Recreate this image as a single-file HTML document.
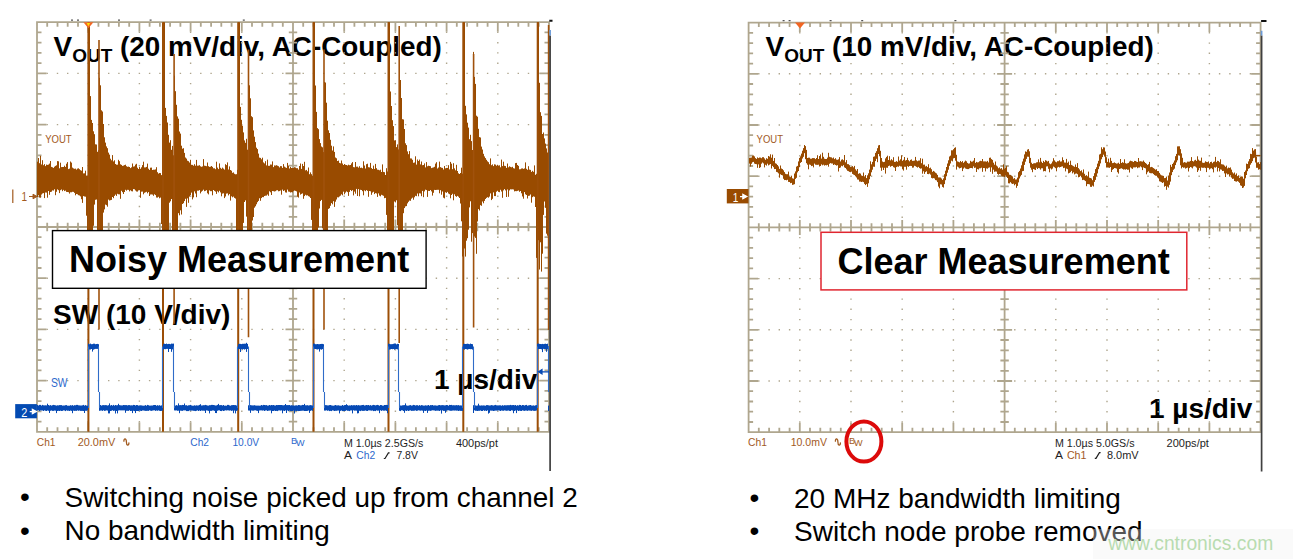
<!DOCTYPE html>
<html><head><meta charset="utf-8"><style>
html,body{margin:0;padding:0;background:#fff;width:1293px;height:559px;overflow:hidden}
svg{display:block}
text{font-family:'Liberation Sans',Arial,sans-serif}
.sc{font-size:11px}
</style></head><body>
<svg width="1293" height="559" viewBox="0 0 1293 559">
<rect width="1293" height="559" fill="#fff"/>

<text x="53.6" y="55.6" font-size="27.85" font-weight="bold" fill="#000">V<tspan font-size="19" dy="6.4">OUT</tspan><tspan dy="-6.4"> (20 mV/div, AC-Coupled)</tspan></text>
<text x="765.6" y="55.9" font-size="27.85" font-weight="bold" fill="#000">V<tspan font-size="19" dy="6.4">OUT</tspan><tspan dy="-6.4"> (10 mV/div, AC-Coupled)</tspan></text>
<text x="53" y="324" font-size="28" font-weight="bold" fill="#000">SW (10 V/div)</text>
<text x="434" y="388.7" font-size="28" font-weight="bold" fill="#000">1 µs/div</text>
<text x="1149" y="417.6" font-size="28" font-weight="bold" fill="#000">1 µs/div</text>
<path fill="#afa68e" d="M87.5 31.7h1.4v1.4h-1.4zM87.5 42h1.4v1.4h-1.4zM87.5 52.2h1.4v1.4h-1.4zM87.5 62.5h1.4v1.4h-1.4zM87.5 72.7h1.4v1.4h-1.4zM87.5 82.9h1.4v1.4h-1.4zM87.5 93.2h1.4v1.4h-1.4zM87.5 103.4h1.4v1.4h-1.4zM87.5 113.7h1.4v1.4h-1.4zM87.5 123.9h1.4v1.4h-1.4zM87.5 134.1h1.4v1.4h-1.4zM87.5 144.4h1.4v1.4h-1.4zM87.5 154.6h1.4v1.4h-1.4zM87.5 164.9h1.4v1.4h-1.4zM87.5 175.1h1.4v1.4h-1.4zM87.5 185.3h1.4v1.4h-1.4zM87.5 195.6h1.4v1.4h-1.4zM87.5 205.8h1.4v1.4h-1.4zM87.5 216.1h1.4v1.4h-1.4zM87.5 226.3h1.4v1.4h-1.4zM87.5 236.5h1.4v1.4h-1.4zM87.5 246.8h1.4v1.4h-1.4zM87.5 257h1.4v1.4h-1.4zM87.5 267.3h1.4v1.4h-1.4zM87.5 277.5h1.4v1.4h-1.4zM87.5 287.7h1.4v1.4h-1.4zM87.5 298h1.4v1.4h-1.4zM87.5 308.2h1.4v1.4h-1.4zM87.5 318.5h1.4v1.4h-1.4zM87.5 328.7h1.4v1.4h-1.4zM87.5 338.9h1.4v1.4h-1.4zM87.5 349.2h1.4v1.4h-1.4zM87.5 359.4h1.4v1.4h-1.4zM87.5 369.7h1.4v1.4h-1.4zM87.5 379.9h1.4v1.4h-1.4zM87.5 390.1h1.4v1.4h-1.4zM87.5 400.4h1.4v1.4h-1.4zM87.5 410.6h1.4v1.4h-1.4zM87.5 420.9h1.4v1.4h-1.4zM138.7 31.7h1.4v1.4h-1.4zM138.7 42h1.4v1.4h-1.4zM138.7 52.2h1.4v1.4h-1.4zM138.7 62.5h1.4v1.4h-1.4zM138.7 72.7h1.4v1.4h-1.4zM138.7 82.9h1.4v1.4h-1.4zM138.7 93.2h1.4v1.4h-1.4zM138.7 103.4h1.4v1.4h-1.4zM138.7 113.7h1.4v1.4h-1.4zM138.7 123.9h1.4v1.4h-1.4zM138.7 134.1h1.4v1.4h-1.4zM138.7 144.4h1.4v1.4h-1.4zM138.7 154.6h1.4v1.4h-1.4zM138.7 164.9h1.4v1.4h-1.4zM138.7 175.1h1.4v1.4h-1.4zM138.7 185.3h1.4v1.4h-1.4zM138.7 195.6h1.4v1.4h-1.4zM138.7 205.8h1.4v1.4h-1.4zM138.7 216.1h1.4v1.4h-1.4zM138.7 226.3h1.4v1.4h-1.4zM138.7 236.5h1.4v1.4h-1.4zM138.7 246.8h1.4v1.4h-1.4zM138.7 257h1.4v1.4h-1.4zM138.7 267.3h1.4v1.4h-1.4zM138.7 277.5h1.4v1.4h-1.4zM138.7 287.7h1.4v1.4h-1.4zM138.7 298h1.4v1.4h-1.4zM138.7 308.2h1.4v1.4h-1.4zM138.7 318.5h1.4v1.4h-1.4zM138.7 328.7h1.4v1.4h-1.4zM138.7 338.9h1.4v1.4h-1.4zM138.7 349.2h1.4v1.4h-1.4zM138.7 359.4h1.4v1.4h-1.4zM138.7 369.7h1.4v1.4h-1.4zM138.7 379.9h1.4v1.4h-1.4zM138.7 390.1h1.4v1.4h-1.4zM138.7 400.4h1.4v1.4h-1.4zM138.7 410.6h1.4v1.4h-1.4zM138.7 420.9h1.4v1.4h-1.4zM189.9 31.7h1.4v1.4h-1.4zM189.9 42h1.4v1.4h-1.4zM189.9 52.2h1.4v1.4h-1.4zM189.9 62.5h1.4v1.4h-1.4zM189.9 72.7h1.4v1.4h-1.4zM189.9 82.9h1.4v1.4h-1.4zM189.9 93.2h1.4v1.4h-1.4zM189.9 103.4h1.4v1.4h-1.4zM189.9 113.7h1.4v1.4h-1.4zM189.9 123.9h1.4v1.4h-1.4zM189.9 134.1h1.4v1.4h-1.4zM189.9 144.4h1.4v1.4h-1.4zM189.9 154.6h1.4v1.4h-1.4zM189.9 164.9h1.4v1.4h-1.4zM189.9 175.1h1.4v1.4h-1.4zM189.9 185.3h1.4v1.4h-1.4zM189.9 195.6h1.4v1.4h-1.4zM189.9 205.8h1.4v1.4h-1.4zM189.9 216.1h1.4v1.4h-1.4zM189.9 226.3h1.4v1.4h-1.4zM189.9 236.5h1.4v1.4h-1.4zM189.9 246.8h1.4v1.4h-1.4zM189.9 257h1.4v1.4h-1.4zM189.9 267.3h1.4v1.4h-1.4zM189.9 277.5h1.4v1.4h-1.4zM189.9 287.7h1.4v1.4h-1.4zM189.9 298h1.4v1.4h-1.4zM189.9 308.2h1.4v1.4h-1.4zM189.9 318.5h1.4v1.4h-1.4zM189.9 328.7h1.4v1.4h-1.4zM189.9 338.9h1.4v1.4h-1.4zM189.9 349.2h1.4v1.4h-1.4zM189.9 359.4h1.4v1.4h-1.4zM189.9 369.7h1.4v1.4h-1.4zM189.9 379.9h1.4v1.4h-1.4zM189.9 390.1h1.4v1.4h-1.4zM189.9 400.4h1.4v1.4h-1.4zM189.9 410.6h1.4v1.4h-1.4zM189.9 420.9h1.4v1.4h-1.4zM241.1 31.7h1.4v1.4h-1.4zM241.1 42h1.4v1.4h-1.4zM241.1 52.2h1.4v1.4h-1.4zM241.1 62.5h1.4v1.4h-1.4zM241.1 72.7h1.4v1.4h-1.4zM241.1 82.9h1.4v1.4h-1.4zM241.1 93.2h1.4v1.4h-1.4zM241.1 103.4h1.4v1.4h-1.4zM241.1 113.7h1.4v1.4h-1.4zM241.1 123.9h1.4v1.4h-1.4zM241.1 134.1h1.4v1.4h-1.4zM241.1 144.4h1.4v1.4h-1.4zM241.1 154.6h1.4v1.4h-1.4zM241.1 164.9h1.4v1.4h-1.4zM241.1 175.1h1.4v1.4h-1.4zM241.1 185.3h1.4v1.4h-1.4zM241.1 195.6h1.4v1.4h-1.4zM241.1 205.8h1.4v1.4h-1.4zM241.1 216.1h1.4v1.4h-1.4zM241.1 226.3h1.4v1.4h-1.4zM241.1 236.5h1.4v1.4h-1.4zM241.1 246.8h1.4v1.4h-1.4zM241.1 257h1.4v1.4h-1.4zM241.1 267.3h1.4v1.4h-1.4zM241.1 277.5h1.4v1.4h-1.4zM241.1 287.7h1.4v1.4h-1.4zM241.1 298h1.4v1.4h-1.4zM241.1 308.2h1.4v1.4h-1.4zM241.1 318.5h1.4v1.4h-1.4zM241.1 328.7h1.4v1.4h-1.4zM241.1 338.9h1.4v1.4h-1.4zM241.1 349.2h1.4v1.4h-1.4zM241.1 359.4h1.4v1.4h-1.4zM241.1 369.7h1.4v1.4h-1.4zM241.1 379.9h1.4v1.4h-1.4zM241.1 390.1h1.4v1.4h-1.4zM241.1 400.4h1.4v1.4h-1.4zM241.1 410.6h1.4v1.4h-1.4zM241.1 420.9h1.4v1.4h-1.4zM343.5 31.7h1.4v1.4h-1.4zM343.5 42h1.4v1.4h-1.4zM343.5 52.2h1.4v1.4h-1.4zM343.5 62.5h1.4v1.4h-1.4zM343.5 72.7h1.4v1.4h-1.4zM343.5 82.9h1.4v1.4h-1.4zM343.5 93.2h1.4v1.4h-1.4zM343.5 103.4h1.4v1.4h-1.4zM343.5 113.7h1.4v1.4h-1.4zM343.5 123.9h1.4v1.4h-1.4zM343.5 134.1h1.4v1.4h-1.4zM343.5 144.4h1.4v1.4h-1.4zM343.5 154.6h1.4v1.4h-1.4zM343.5 164.9h1.4v1.4h-1.4zM343.5 175.1h1.4v1.4h-1.4zM343.5 185.3h1.4v1.4h-1.4zM343.5 195.6h1.4v1.4h-1.4zM343.5 205.8h1.4v1.4h-1.4zM343.5 216.1h1.4v1.4h-1.4zM343.5 226.3h1.4v1.4h-1.4zM343.5 236.5h1.4v1.4h-1.4zM343.5 246.8h1.4v1.4h-1.4zM343.5 257h1.4v1.4h-1.4zM343.5 267.3h1.4v1.4h-1.4zM343.5 277.5h1.4v1.4h-1.4zM343.5 287.7h1.4v1.4h-1.4zM343.5 298h1.4v1.4h-1.4zM343.5 308.2h1.4v1.4h-1.4zM343.5 318.5h1.4v1.4h-1.4zM343.5 328.7h1.4v1.4h-1.4zM343.5 338.9h1.4v1.4h-1.4zM343.5 349.2h1.4v1.4h-1.4zM343.5 359.4h1.4v1.4h-1.4zM343.5 369.7h1.4v1.4h-1.4zM343.5 379.9h1.4v1.4h-1.4zM343.5 390.1h1.4v1.4h-1.4zM343.5 400.4h1.4v1.4h-1.4zM343.5 410.6h1.4v1.4h-1.4zM343.5 420.9h1.4v1.4h-1.4zM394.7 31.7h1.4v1.4h-1.4zM394.7 42h1.4v1.4h-1.4zM394.7 52.2h1.4v1.4h-1.4zM394.7 62.5h1.4v1.4h-1.4zM394.7 72.7h1.4v1.4h-1.4zM394.7 82.9h1.4v1.4h-1.4zM394.7 93.2h1.4v1.4h-1.4zM394.7 103.4h1.4v1.4h-1.4zM394.7 113.7h1.4v1.4h-1.4zM394.7 123.9h1.4v1.4h-1.4zM394.7 134.1h1.4v1.4h-1.4zM394.7 144.4h1.4v1.4h-1.4zM394.7 154.6h1.4v1.4h-1.4zM394.7 164.9h1.4v1.4h-1.4zM394.7 175.1h1.4v1.4h-1.4zM394.7 185.3h1.4v1.4h-1.4zM394.7 195.6h1.4v1.4h-1.4zM394.7 205.8h1.4v1.4h-1.4zM394.7 216.1h1.4v1.4h-1.4zM394.7 226.3h1.4v1.4h-1.4zM394.7 236.5h1.4v1.4h-1.4zM394.7 246.8h1.4v1.4h-1.4zM394.7 257h1.4v1.4h-1.4zM394.7 267.3h1.4v1.4h-1.4zM394.7 277.5h1.4v1.4h-1.4zM394.7 287.7h1.4v1.4h-1.4zM394.7 298h1.4v1.4h-1.4zM394.7 308.2h1.4v1.4h-1.4zM394.7 318.5h1.4v1.4h-1.4zM394.7 328.7h1.4v1.4h-1.4zM394.7 338.9h1.4v1.4h-1.4zM394.7 349.2h1.4v1.4h-1.4zM394.7 359.4h1.4v1.4h-1.4zM394.7 369.7h1.4v1.4h-1.4zM394.7 379.9h1.4v1.4h-1.4zM394.7 390.1h1.4v1.4h-1.4zM394.7 400.4h1.4v1.4h-1.4zM394.7 410.6h1.4v1.4h-1.4zM394.7 420.9h1.4v1.4h-1.4zM445.9 31.7h1.4v1.4h-1.4zM445.9 42h1.4v1.4h-1.4zM445.9 52.2h1.4v1.4h-1.4zM445.9 62.5h1.4v1.4h-1.4zM445.9 72.7h1.4v1.4h-1.4zM445.9 82.9h1.4v1.4h-1.4zM445.9 93.2h1.4v1.4h-1.4zM445.9 103.4h1.4v1.4h-1.4zM445.9 113.7h1.4v1.4h-1.4zM445.9 123.9h1.4v1.4h-1.4zM445.9 134.1h1.4v1.4h-1.4zM445.9 144.4h1.4v1.4h-1.4zM445.9 154.6h1.4v1.4h-1.4zM445.9 164.9h1.4v1.4h-1.4zM445.9 175.1h1.4v1.4h-1.4zM445.9 185.3h1.4v1.4h-1.4zM445.9 195.6h1.4v1.4h-1.4zM445.9 205.8h1.4v1.4h-1.4zM445.9 216.1h1.4v1.4h-1.4zM445.9 226.3h1.4v1.4h-1.4zM445.9 236.5h1.4v1.4h-1.4zM445.9 246.8h1.4v1.4h-1.4zM445.9 257h1.4v1.4h-1.4zM445.9 267.3h1.4v1.4h-1.4zM445.9 277.5h1.4v1.4h-1.4zM445.9 287.7h1.4v1.4h-1.4zM445.9 298h1.4v1.4h-1.4zM445.9 308.2h1.4v1.4h-1.4zM445.9 318.5h1.4v1.4h-1.4zM445.9 328.7h1.4v1.4h-1.4zM445.9 338.9h1.4v1.4h-1.4zM445.9 349.2h1.4v1.4h-1.4zM445.9 359.4h1.4v1.4h-1.4zM445.9 369.7h1.4v1.4h-1.4zM445.9 379.9h1.4v1.4h-1.4zM445.9 390.1h1.4v1.4h-1.4zM445.9 400.4h1.4v1.4h-1.4zM445.9 410.6h1.4v1.4h-1.4zM445.9 420.9h1.4v1.4h-1.4zM497.1 31.7h1.4v1.4h-1.4zM497.1 42h1.4v1.4h-1.4zM497.1 52.2h1.4v1.4h-1.4zM497.1 62.5h1.4v1.4h-1.4zM497.1 72.7h1.4v1.4h-1.4zM497.1 82.9h1.4v1.4h-1.4zM497.1 93.2h1.4v1.4h-1.4zM497.1 103.4h1.4v1.4h-1.4zM497.1 113.7h1.4v1.4h-1.4zM497.1 123.9h1.4v1.4h-1.4zM497.1 134.1h1.4v1.4h-1.4zM497.1 144.4h1.4v1.4h-1.4zM497.1 154.6h1.4v1.4h-1.4zM497.1 164.9h1.4v1.4h-1.4zM497.1 175.1h1.4v1.4h-1.4zM497.1 185.3h1.4v1.4h-1.4zM497.1 195.6h1.4v1.4h-1.4zM497.1 205.8h1.4v1.4h-1.4zM497.1 216.1h1.4v1.4h-1.4zM497.1 226.3h1.4v1.4h-1.4zM497.1 236.5h1.4v1.4h-1.4zM497.1 246.8h1.4v1.4h-1.4zM497.1 257h1.4v1.4h-1.4zM497.1 267.3h1.4v1.4h-1.4zM497.1 277.5h1.4v1.4h-1.4zM497.1 287.7h1.4v1.4h-1.4zM497.1 298h1.4v1.4h-1.4zM497.1 308.2h1.4v1.4h-1.4zM497.1 318.5h1.4v1.4h-1.4zM497.1 328.7h1.4v1.4h-1.4zM497.1 338.9h1.4v1.4h-1.4zM497.1 349.2h1.4v1.4h-1.4zM497.1 359.4h1.4v1.4h-1.4zM497.1 369.7h1.4v1.4h-1.4zM497.1 379.9h1.4v1.4h-1.4zM497.1 390.1h1.4v1.4h-1.4zM497.1 400.4h1.4v1.4h-1.4zM497.1 410.6h1.4v1.4h-1.4zM497.1 420.9h1.4v1.4h-1.4zM46.5 72.7h1.4v1.4h-1.4zM56.8 72.7h1.4v1.4h-1.4zM67 72.7h1.4v1.4h-1.4zM77.3 72.7h1.4v1.4h-1.4zM97.7 72.7h1.4v1.4h-1.4zM108 72.7h1.4v1.4h-1.4zM118.2 72.7h1.4v1.4h-1.4zM128.5 72.7h1.4v1.4h-1.4zM148.9 72.7h1.4v1.4h-1.4zM159.2 72.7h1.4v1.4h-1.4zM169.4 72.7h1.4v1.4h-1.4zM179.7 72.7h1.4v1.4h-1.4zM200.1 72.7h1.4v1.4h-1.4zM210.4 72.7h1.4v1.4h-1.4zM220.6 72.7h1.4v1.4h-1.4zM230.9 72.7h1.4v1.4h-1.4zM251.3 72.7h1.4v1.4h-1.4zM261.6 72.7h1.4v1.4h-1.4zM271.8 72.7h1.4v1.4h-1.4zM282.1 72.7h1.4v1.4h-1.4zM302.5 72.7h1.4v1.4h-1.4zM312.8 72.7h1.4v1.4h-1.4zM323 72.7h1.4v1.4h-1.4zM333.3 72.7h1.4v1.4h-1.4zM353.7 72.7h1.4v1.4h-1.4zM364 72.7h1.4v1.4h-1.4zM374.2 72.7h1.4v1.4h-1.4zM384.5 72.7h1.4v1.4h-1.4zM404.9 72.7h1.4v1.4h-1.4zM415.2 72.7h1.4v1.4h-1.4zM425.4 72.7h1.4v1.4h-1.4zM435.7 72.7h1.4v1.4h-1.4zM456.1 72.7h1.4v1.4h-1.4zM466.4 72.7h1.4v1.4h-1.4zM476.6 72.7h1.4v1.4h-1.4zM486.9 72.7h1.4v1.4h-1.4zM507.3 72.7h1.4v1.4h-1.4zM517.6 72.7h1.4v1.4h-1.4zM527.8 72.7h1.4v1.4h-1.4zM538.1 72.7h1.4v1.4h-1.4zM46.5 123.9h1.4v1.4h-1.4zM56.8 123.9h1.4v1.4h-1.4zM67 123.9h1.4v1.4h-1.4zM77.3 123.9h1.4v1.4h-1.4zM97.7 123.9h1.4v1.4h-1.4zM108 123.9h1.4v1.4h-1.4zM118.2 123.9h1.4v1.4h-1.4zM128.5 123.9h1.4v1.4h-1.4zM148.9 123.9h1.4v1.4h-1.4zM159.2 123.9h1.4v1.4h-1.4zM169.4 123.9h1.4v1.4h-1.4zM179.7 123.9h1.4v1.4h-1.4zM200.1 123.9h1.4v1.4h-1.4zM210.4 123.9h1.4v1.4h-1.4zM220.6 123.9h1.4v1.4h-1.4zM230.9 123.9h1.4v1.4h-1.4zM251.3 123.9h1.4v1.4h-1.4zM261.6 123.9h1.4v1.4h-1.4zM271.8 123.9h1.4v1.4h-1.4zM282.1 123.9h1.4v1.4h-1.4zM302.5 123.9h1.4v1.4h-1.4zM312.8 123.9h1.4v1.4h-1.4zM323 123.9h1.4v1.4h-1.4zM333.3 123.9h1.4v1.4h-1.4zM353.7 123.9h1.4v1.4h-1.4zM364 123.9h1.4v1.4h-1.4zM374.2 123.9h1.4v1.4h-1.4zM384.5 123.9h1.4v1.4h-1.4zM404.9 123.9h1.4v1.4h-1.4zM415.2 123.9h1.4v1.4h-1.4zM425.4 123.9h1.4v1.4h-1.4zM435.7 123.9h1.4v1.4h-1.4zM456.1 123.9h1.4v1.4h-1.4zM466.4 123.9h1.4v1.4h-1.4zM476.6 123.9h1.4v1.4h-1.4zM486.9 123.9h1.4v1.4h-1.4zM507.3 123.9h1.4v1.4h-1.4zM517.6 123.9h1.4v1.4h-1.4zM527.8 123.9h1.4v1.4h-1.4zM538.1 123.9h1.4v1.4h-1.4zM46.5 175.1h1.4v1.4h-1.4zM56.8 175.1h1.4v1.4h-1.4zM67 175.1h1.4v1.4h-1.4zM77.3 175.1h1.4v1.4h-1.4zM97.7 175.1h1.4v1.4h-1.4zM108 175.1h1.4v1.4h-1.4zM118.2 175.1h1.4v1.4h-1.4zM128.5 175.1h1.4v1.4h-1.4zM148.9 175.1h1.4v1.4h-1.4zM159.2 175.1h1.4v1.4h-1.4zM169.4 175.1h1.4v1.4h-1.4zM179.7 175.1h1.4v1.4h-1.4zM200.1 175.1h1.4v1.4h-1.4zM210.4 175.1h1.4v1.4h-1.4zM220.6 175.1h1.4v1.4h-1.4zM230.9 175.1h1.4v1.4h-1.4zM251.3 175.1h1.4v1.4h-1.4zM261.6 175.1h1.4v1.4h-1.4zM271.8 175.1h1.4v1.4h-1.4zM282.1 175.1h1.4v1.4h-1.4zM302.5 175.1h1.4v1.4h-1.4zM312.8 175.1h1.4v1.4h-1.4zM323 175.1h1.4v1.4h-1.4zM333.3 175.1h1.4v1.4h-1.4zM353.7 175.1h1.4v1.4h-1.4zM364 175.1h1.4v1.4h-1.4zM374.2 175.1h1.4v1.4h-1.4zM384.5 175.1h1.4v1.4h-1.4zM404.9 175.1h1.4v1.4h-1.4zM415.2 175.1h1.4v1.4h-1.4zM425.4 175.1h1.4v1.4h-1.4zM435.7 175.1h1.4v1.4h-1.4zM456.1 175.1h1.4v1.4h-1.4zM466.4 175.1h1.4v1.4h-1.4zM476.6 175.1h1.4v1.4h-1.4zM486.9 175.1h1.4v1.4h-1.4zM507.3 175.1h1.4v1.4h-1.4zM517.6 175.1h1.4v1.4h-1.4zM527.8 175.1h1.4v1.4h-1.4zM538.1 175.1h1.4v1.4h-1.4zM46.5 277.5h1.4v1.4h-1.4zM56.8 277.5h1.4v1.4h-1.4zM67 277.5h1.4v1.4h-1.4zM77.3 277.5h1.4v1.4h-1.4zM97.7 277.5h1.4v1.4h-1.4zM108 277.5h1.4v1.4h-1.4zM118.2 277.5h1.4v1.4h-1.4zM128.5 277.5h1.4v1.4h-1.4zM148.9 277.5h1.4v1.4h-1.4zM159.2 277.5h1.4v1.4h-1.4zM169.4 277.5h1.4v1.4h-1.4zM179.7 277.5h1.4v1.4h-1.4zM200.1 277.5h1.4v1.4h-1.4zM210.4 277.5h1.4v1.4h-1.4zM220.6 277.5h1.4v1.4h-1.4zM230.9 277.5h1.4v1.4h-1.4zM251.3 277.5h1.4v1.4h-1.4zM261.6 277.5h1.4v1.4h-1.4zM271.8 277.5h1.4v1.4h-1.4zM282.1 277.5h1.4v1.4h-1.4zM302.5 277.5h1.4v1.4h-1.4zM312.8 277.5h1.4v1.4h-1.4zM323 277.5h1.4v1.4h-1.4zM333.3 277.5h1.4v1.4h-1.4zM353.7 277.5h1.4v1.4h-1.4zM364 277.5h1.4v1.4h-1.4zM374.2 277.5h1.4v1.4h-1.4zM384.5 277.5h1.4v1.4h-1.4zM404.9 277.5h1.4v1.4h-1.4zM415.2 277.5h1.4v1.4h-1.4zM425.4 277.5h1.4v1.4h-1.4zM435.7 277.5h1.4v1.4h-1.4zM456.1 277.5h1.4v1.4h-1.4zM466.4 277.5h1.4v1.4h-1.4zM476.6 277.5h1.4v1.4h-1.4zM486.9 277.5h1.4v1.4h-1.4zM507.3 277.5h1.4v1.4h-1.4zM517.6 277.5h1.4v1.4h-1.4zM527.8 277.5h1.4v1.4h-1.4zM538.1 277.5h1.4v1.4h-1.4zM46.5 328.7h1.4v1.4h-1.4zM56.8 328.7h1.4v1.4h-1.4zM67 328.7h1.4v1.4h-1.4zM77.3 328.7h1.4v1.4h-1.4zM97.7 328.7h1.4v1.4h-1.4zM108 328.7h1.4v1.4h-1.4zM118.2 328.7h1.4v1.4h-1.4zM128.5 328.7h1.4v1.4h-1.4zM148.9 328.7h1.4v1.4h-1.4zM159.2 328.7h1.4v1.4h-1.4zM169.4 328.7h1.4v1.4h-1.4zM179.7 328.7h1.4v1.4h-1.4zM200.1 328.7h1.4v1.4h-1.4zM210.4 328.7h1.4v1.4h-1.4zM220.6 328.7h1.4v1.4h-1.4zM230.9 328.7h1.4v1.4h-1.4zM251.3 328.7h1.4v1.4h-1.4zM261.6 328.7h1.4v1.4h-1.4zM271.8 328.7h1.4v1.4h-1.4zM282.1 328.7h1.4v1.4h-1.4zM302.5 328.7h1.4v1.4h-1.4zM312.8 328.7h1.4v1.4h-1.4zM323 328.7h1.4v1.4h-1.4zM333.3 328.7h1.4v1.4h-1.4zM353.7 328.7h1.4v1.4h-1.4zM364 328.7h1.4v1.4h-1.4zM374.2 328.7h1.4v1.4h-1.4zM384.5 328.7h1.4v1.4h-1.4zM404.9 328.7h1.4v1.4h-1.4zM415.2 328.7h1.4v1.4h-1.4zM425.4 328.7h1.4v1.4h-1.4zM435.7 328.7h1.4v1.4h-1.4zM456.1 328.7h1.4v1.4h-1.4zM466.4 328.7h1.4v1.4h-1.4zM476.6 328.7h1.4v1.4h-1.4zM486.9 328.7h1.4v1.4h-1.4zM507.3 328.7h1.4v1.4h-1.4zM517.6 328.7h1.4v1.4h-1.4zM527.8 328.7h1.4v1.4h-1.4zM538.1 328.7h1.4v1.4h-1.4zM46.5 379.9h1.4v1.4h-1.4zM56.8 379.9h1.4v1.4h-1.4zM67 379.9h1.4v1.4h-1.4zM77.3 379.9h1.4v1.4h-1.4zM97.7 379.9h1.4v1.4h-1.4zM108 379.9h1.4v1.4h-1.4zM118.2 379.9h1.4v1.4h-1.4zM128.5 379.9h1.4v1.4h-1.4zM148.9 379.9h1.4v1.4h-1.4zM159.2 379.9h1.4v1.4h-1.4zM169.4 379.9h1.4v1.4h-1.4zM179.7 379.9h1.4v1.4h-1.4zM200.1 379.9h1.4v1.4h-1.4zM210.4 379.9h1.4v1.4h-1.4zM220.6 379.9h1.4v1.4h-1.4zM230.9 379.9h1.4v1.4h-1.4zM251.3 379.9h1.4v1.4h-1.4zM261.6 379.9h1.4v1.4h-1.4zM271.8 379.9h1.4v1.4h-1.4zM282.1 379.9h1.4v1.4h-1.4zM302.5 379.9h1.4v1.4h-1.4zM312.8 379.9h1.4v1.4h-1.4zM323 379.9h1.4v1.4h-1.4zM333.3 379.9h1.4v1.4h-1.4zM353.7 379.9h1.4v1.4h-1.4zM364 379.9h1.4v1.4h-1.4zM374.2 379.9h1.4v1.4h-1.4zM384.5 379.9h1.4v1.4h-1.4zM404.9 379.9h1.4v1.4h-1.4zM415.2 379.9h1.4v1.4h-1.4zM425.4 379.9h1.4v1.4h-1.4zM435.7 379.9h1.4v1.4h-1.4zM456.1 379.9h1.4v1.4h-1.4zM466.4 379.9h1.4v1.4h-1.4zM476.6 379.9h1.4v1.4h-1.4zM486.9 379.9h1.4v1.4h-1.4zM507.3 379.9h1.4v1.4h-1.4zM517.6 379.9h1.4v1.4h-1.4zM527.8 379.9h1.4v1.4h-1.4zM538.1 379.9h1.4v1.4h-1.4z"/>
<path fill="none" stroke="#afa68e" stroke-width="1.8" d="M37 22.2H549V431.8H37ZM293 22.2V431.8M37 227H549M47.2 22.2v4.5M47.2 431.8v-4.5M47.2 222.8v8.4M57.5 22.2v4.5M57.5 431.8v-4.5M57.5 222.8v8.4M67.7 22.2v4.5M67.7 431.8v-4.5M67.7 222.8v8.4M78 22.2v4.5M78 431.8v-4.5M78 222.8v8.4M88.2 22.2v9.5M88.2 431.8v-9.5M88.2 219.5v15M98.4 22.2v4.5M98.4 431.8v-4.5M98.4 222.8v8.4M108.7 22.2v4.5M108.7 431.8v-4.5M108.7 222.8v8.4M118.9 22.2v4.5M118.9 431.8v-4.5M118.9 222.8v8.4M129.2 22.2v4.5M129.2 431.8v-4.5M129.2 222.8v8.4M139.4 22.2v9.5M139.4 431.8v-9.5M139.4 219.5v15M149.6 22.2v4.5M149.6 431.8v-4.5M149.6 222.8v8.4M159.9 22.2v4.5M159.9 431.8v-4.5M159.9 222.8v8.4M170.1 22.2v4.5M170.1 431.8v-4.5M170.1 222.8v8.4M180.4 22.2v4.5M180.4 431.8v-4.5M180.4 222.8v8.4M190.6 22.2v9.5M190.6 431.8v-9.5M190.6 219.5v15M200.8 22.2v4.5M200.8 431.8v-4.5M200.8 222.8v8.4M211.1 22.2v4.5M211.1 431.8v-4.5M211.1 222.8v8.4M221.3 22.2v4.5M221.3 431.8v-4.5M221.3 222.8v8.4M231.6 22.2v4.5M231.6 431.8v-4.5M231.6 222.8v8.4M241.8 22.2v9.5M241.8 431.8v-9.5M241.8 219.5v15M252 22.2v4.5M252 431.8v-4.5M252 222.8v8.4M262.3 22.2v4.5M262.3 431.8v-4.5M262.3 222.8v8.4M272.5 22.2v4.5M272.5 431.8v-4.5M272.5 222.8v8.4M282.8 22.2v4.5M282.8 431.8v-4.5M282.8 222.8v8.4M293 22.2v9.5M293 431.8v-9.5M293 219.5v15M303.2 22.2v4.5M303.2 431.8v-4.5M303.2 222.8v8.4M313.5 22.2v4.5M313.5 431.8v-4.5M313.5 222.8v8.4M323.7 22.2v4.5M323.7 431.8v-4.5M323.7 222.8v8.4M334 22.2v4.5M334 431.8v-4.5M334 222.8v8.4M344.2 22.2v9.5M344.2 431.8v-9.5M344.2 219.5v15M354.4 22.2v4.5M354.4 431.8v-4.5M354.4 222.8v8.4M364.7 22.2v4.5M364.7 431.8v-4.5M364.7 222.8v8.4M374.9 22.2v4.5M374.9 431.8v-4.5M374.9 222.8v8.4M385.2 22.2v4.5M385.2 431.8v-4.5M385.2 222.8v8.4M395.4 22.2v9.5M395.4 431.8v-9.5M395.4 219.5v15M405.6 22.2v4.5M405.6 431.8v-4.5M405.6 222.8v8.4M415.9 22.2v4.5M415.9 431.8v-4.5M415.9 222.8v8.4M426.1 22.2v4.5M426.1 431.8v-4.5M426.1 222.8v8.4M436.4 22.2v4.5M436.4 431.8v-4.5M436.4 222.8v8.4M446.6 22.2v9.5M446.6 431.8v-9.5M446.6 219.5v15M456.8 22.2v4.5M456.8 431.8v-4.5M456.8 222.8v8.4M467.1 22.2v4.5M467.1 431.8v-4.5M467.1 222.8v8.4M477.3 22.2v4.5M477.3 431.8v-4.5M477.3 222.8v8.4M487.6 22.2v4.5M487.6 431.8v-4.5M487.6 222.8v8.4M497.8 22.2v9.5M497.8 431.8v-9.5M497.8 219.5v15M508 22.2v4.5M508 431.8v-4.5M508 222.8v8.4M518.3 22.2v4.5M518.3 431.8v-4.5M518.3 222.8v8.4M528.5 22.2v4.5M528.5 431.8v-4.5M528.5 222.8v8.4M538.8 22.2v4.5M538.8 431.8v-4.5M538.8 222.8v8.4M37 32.4h4.5M549 32.4h-4.5M288.8 32.4h8.4M37 42.7h4.5M549 42.7h-4.5M288.8 42.7h8.4M37 52.9h4.5M549 52.9h-4.5M288.8 52.9h8.4M37 63.2h4.5M549 63.2h-4.5M288.8 63.2h8.4M37 73.4h9.5M549 73.4h-9.5M285.5 73.4h15M37 83.6h4.5M549 83.6h-4.5M288.8 83.6h8.4M37 93.9h4.5M549 93.9h-4.5M288.8 93.9h8.4M37 104.1h4.5M549 104.1h-4.5M288.8 104.1h8.4M37 114.4h4.5M549 114.4h-4.5M288.8 114.4h8.4M37 124.6h9.5M549 124.6h-9.5M285.5 124.6h15M37 134.8h4.5M549 134.8h-4.5M288.8 134.8h8.4M37 145.1h4.5M549 145.1h-4.5M288.8 145.1h8.4M37 155.3h4.5M549 155.3h-4.5M288.8 155.3h8.4M37 165.6h4.5M549 165.6h-4.5M288.8 165.6h8.4M37 175.8h9.5M549 175.8h-9.5M285.5 175.8h15M37 186h4.5M549 186h-4.5M288.8 186h8.4M37 196.3h4.5M549 196.3h-4.5M288.8 196.3h8.4M37 206.5h4.5M549 206.5h-4.5M288.8 206.5h8.4M37 216.8h4.5M549 216.8h-4.5M288.8 216.8h8.4M37 227h9.5M549 227h-9.5M285.5 227h15M37 237.2h4.5M549 237.2h-4.5M288.8 237.2h8.4M37 247.5h4.5M549 247.5h-4.5M288.8 247.5h8.4M37 257.7h4.5M549 257.7h-4.5M288.8 257.7h8.4M37 268h4.5M549 268h-4.5M288.8 268h8.4M37 278.2h9.5M549 278.2h-9.5M285.5 278.2h15M37 288.4h4.5M549 288.4h-4.5M288.8 288.4h8.4M37 298.7h4.5M549 298.7h-4.5M288.8 298.7h8.4M37 308.9h4.5M549 308.9h-4.5M288.8 308.9h8.4M37 319.2h4.5M549 319.2h-4.5M288.8 319.2h8.4M37 329.4h9.5M549 329.4h-9.5M285.5 329.4h15M37 339.6h4.5M549 339.6h-4.5M288.8 339.6h8.4M37 349.9h4.5M549 349.9h-4.5M288.8 349.9h8.4M37 360.1h4.5M549 360.1h-4.5M288.8 360.1h8.4M37 370.4h4.5M549 370.4h-4.5M288.8 370.4h8.4M37 380.6h9.5M549 380.6h-9.5M285.5 380.6h15M37 390.8h4.5M549 390.8h-4.5M288.8 390.8h8.4M37 401.1h4.5M549 401.1h-4.5M288.8 401.1h8.4M37 411.3h4.5M549 411.3h-4.5M288.8 411.3h8.4M37 421.6h4.5M549 421.6h-4.5M288.8 421.6h8.4"/>
<path stroke="#994b00" stroke-width="1" d="M37.5 161.7V197M38.5 158V195M39.5 163.2V197.5M40.5 155.9V197.7M41.5 164.5V194.6M42.5 160.2V193.5M43.5 165.2V193.1M44.5 164.1V198.1M45.5 166.1V192.5M46.5 164.6V192.6M47.5 164.9V197.7M48.5 164.6V191M49.5 163.6V194.8M50.5 161V192M51.5 166.9V191.7M52.5 167.3V190.4M53.5 167.9V190.6M54.5 166.7V189.3M55.5 165.9V195.2M56.5 165.3V191.8M57.5 161.1V189.4M58.5 161.3V190.2M59.5 168.3V193.1M60.5 162.7V190.2M61.5 167.1V189.5M62.5 167V191.2M63.5 167V189.9M64.5 165.7V191.1M65.5 166.9V190.6M66.5 163.7V191.9M67.5 162.1V192M68.5 169.1V192.2M69.5 168.6V193.6M70.5 161.5V192.3M71.5 162.6V192.3M72.5 167.6V191.8M73.5 168.4V191.9M74.5 168.8V192.9M75.5 168.6V195.3M76.5 169.6V194M77.5 168.6V194.3M78.5 168.3V195.2M79.5 169.2V195.5M80.5 170.2V196.4M81.5 170.7V199.2M82.5 167V202.9M83.5 173.4V196.1M84.5 173.3V196.5M85.5 170.7V196.7M86.5 175.6V215.7M87.5 175.7V235.8M88.5 22.2V244.9M89.5 22.2V249.6M90.5 103.9V254.4M91.5 119.9V258.3M92.5 123V268.3M93.5 131.3V225.8M94.5 134.2V204.6M95.5 144.3V199.8M96.5 144.5V199.5M97.5 151.8V229.9M98.5 150.2V252.5M99.5 77.8V237.3M100.5 85.3V243.8M101.5 110.3V242M102.5 111.5V240.2M103.5 124V212.6M104.5 137.3V209.4M105.5 142.6V204.6M106.5 146.4V205.2M107.5 148.2V206.7M108.5 152.6V199.6M109.5 154.6V200.5M110.5 158.7V200.2M111.5 160.3V199.9M112.5 155.1V197M113.5 161.4V198.2M114.5 160.3V195.9M115.5 164V194.6M116.5 164.7V195.9M117.5 164.7V193.8M118.5 159.8V194.3M119.5 161.2V194.4M120.5 164.3V198.8M121.5 164.9V190.8M122.5 165.9V192.2M123.5 165.6V194M124.5 165.1V192M125.5 164.7V189.8M126.5 166.2V190.7M127.5 166.8V189.8M128.5 166.6V189.9M129.5 167V191.4M130.5 168.1V190.3M131.5 167.3V191.2M132.5 163.5V191.4M133.5 166.6V189.1M134.5 166.3V189.3M135.5 164.6V190.5M136.5 163.8V191.5M137.5 167.7V191.6M138.5 169V190.4M139.5 166.8V190.2M140.5 168.8V197.8M141.5 167.3V191.7M142.5 165.1V191.6M143.5 161.7V194.3M144.5 167.4V192.8M145.5 167.4V192.3M146.5 166.9V191.8M147.5 163.6V193.3M148.5 168.7V192.1M149.5 169.9V196M150.5 167.7V194.5M151.5 167.6V194.4M152.5 170V194.6M153.5 169.7V195.8M154.5 169.7V194.3M155.5 169.4V195.1M156.5 167.2V197.5M157.5 172.2V197.6M158.5 173.6V196.8M159.5 173V198.3M160.5 173.1V197.6M161.5 175.1V224M162.5 174.7V244.2M163.5 22.2V240.5M164.5 22.2V246.4M165.5 107.9V242.7M166.5 115.9V241.6M167.5 122.5V234.7M168.5 134.8V245.8M169.5 142.6V202.7M170.5 140.2V201.3M171.5 149.8V199M172.5 145.9V233.2M173.5 155.3V265.7M174.5 75.7V238.3M175.5 91.2V237M176.5 104.8V235.8M177.5 116.4V258.9M178.5 118.7V213.2M179.5 131.5V215.3M180.5 133.6V210.3M181.5 145.7V214.5M182.5 148.7V204M183.5 148.2V203.2M184.5 152.9V201.1M185.5 157.5V198.8M186.5 158.6V206.9M187.5 160.7V198.4M188.5 161.2V202.8M189.5 162.5V196.6M190.5 159.8V195.2M191.5 164.8V192.6M192.5 164.9V199.4M193.5 165.7V197.4M194.5 164.2V191.4M195.5 165.7V193.5M196.5 159.9V197.2M197.5 165.7V190.7M198.5 165.6V190.7M199.5 165.2V190.1M200.5 166.3V193.4M201.5 166.8V191.7M202.5 166.4V190.8M203.5 159.1V189.7M204.5 165.7V191.2M205.5 165.9V190.8M206.5 166.2V190.2M207.5 162.5V193.3M208.5 166.2V194.4M209.5 166.9V190.4M210.5 166.7V191.2M211.5 166V191.2M212.5 166.9V195.3M213.5 168.3V190M214.5 168.3V190.9M215.5 169.2V191.6M216.5 161.7V193.9M217.5 167.6V191.3M218.5 169.1V192.4M219.5 163.4V190.8M220.5 167.8V192.4M221.5 168.8V196.3M222.5 167.6V193.6M223.5 168.6V193.3M224.5 169.6V198.1M225.5 164.2V196.5M226.5 165.1V193.6M227.5 162.4V193.4M228.5 169.5V195.4M229.5 166.4V194.1M230.5 170V200.6M231.5 170.7V196.3M232.5 172.8V197.3M233.5 172.4V196.6M234.5 173.8V197.9M235.5 174.3V198.6M236.5 174.2V256.3M237.5 169.8V236.4M238.5 22.2V273.8M239.5 22.2V240.6M240.5 106.9V248.3M241.5 119.8V275.9M242.5 125.7V267.8M243.5 132.4V222.9M244.5 140.4V202M245.5 142.8V200.4M246.5 138.8V216.6M247.5 149.7V234.3M248.5 65.8V240M249.5 85.3V255.6M250.5 98.3V235.8M251.5 116.2V234.9M252.5 117.2V220.5M253.5 130.4V217M254.5 136.7V207.7M255.5 142.1V206.3M256.5 147.7V204.3M257.5 149.1V202.2M258.5 153.6V200.9M259.5 157.6V198.3M260.5 157.9V200.8M261.5 159.3V198.1M262.5 157.7V197.1M263.5 162.4V197.2M264.5 163.4V196M265.5 161.2V195.7M266.5 165.4V195.6M267.5 159.6V194.5M268.5 165.8V195.8M269.5 165.8V191.3M270.5 164.5V192.3M271.5 164.6V195M272.5 161.4V191M273.5 167.1V191.2M274.5 165.4V191.5M275.5 165.6V191.2M276.5 165.2V190.4M277.5 165.7V190.2M278.5 166.2V191.3M279.5 167.4V191.1M280.5 166.1V190.5M281.5 166.2V194.7M282.5 167.9V189.6M283.5 164.1V191M284.5 166.6V190.4M285.5 167.4V192.4M286.5 167.9V192.6M287.5 162.9V189.6M288.5 165.6V191.6M289.5 168.5V191.8M290.5 166.9V192.5M291.5 168V192.2M292.5 168V192.4M293.5 168V191.2M294.5 167.2V190.6M295.5 167.5V190.9M296.5 168.2V191.4M297.5 168.2V196.8M298.5 169.6V197.6M299.5 166V192.5M300.5 163.5V194.6M301.5 168.9V193.9M302.5 163.9V193.4M303.5 166V198.8M304.5 161.8V196.1M305.5 170.4V194.8M306.5 169.9V195.5M307.5 171.3V195.3M308.5 167.5V196.2M309.5 174.2V196.7M310.5 172.4V198M311.5 174.2V219.9M312.5 175.8V266.2M313.5 22.2V242.2M314.5 22.2V241.8M315.5 102.6V243.2M316.5 111.9V271.3M317.5 128.1V237.3M318.5 129.2V227.5M319.5 139.1V208.5M320.5 143.1V201.1M321.5 146.5V199.9M322.5 147.3V228.2M323.5 152.1V241.6M324.5 82V239.3M325.5 82.5V236M326.5 102.7V235.3M327.5 120.7V241.8M328.5 130.3V208.9M329.5 133V208.2M330.5 139.8V205.8M331.5 145.7V203.1M332.5 150.5V204.3M333.5 146.4V201.2M334.5 151.9V206.9M335.5 157.5V201.7M336.5 158.3V199.5M337.5 161V197.3M338.5 160.6V197.4M339.5 162.9V196.5M340.5 163.3V195.7M341.5 160.5V194.3M342.5 163.5V195.3M343.5 165V191.7M344.5 164V194.3M345.5 164.8V192.6M346.5 165V191.4M347.5 165.5V192.1M348.5 164.7V195.9M349.5 165.2V191.9M350.5 165V190M351.5 163.4V191.1M352.5 162.1V190.2M353.5 167.1V195.4M354.5 167.3V191.6M355.5 162V193.7M356.5 166.7V188.9M357.5 166.6V196M358.5 167.6V189.1M359.5 166.2V196.3M360.5 167.9V189.8M361.5 167.6V190M362.5 168.2V191.2M363.5 161.3V195.3M364.5 165.5V190.4M365.5 168.5V191.2M366.5 164.2V190.1M367.5 163.7V190.9M368.5 167.2V196.8M369.5 167.4V191M370.5 162.9V191.3M371.5 168.1V194.8M372.5 169V192.6M373.5 165.6V191.8M374.5 168.9V194.1M375.5 163.9V193.1M376.5 168.2V193.5M377.5 169.7V196.9M378.5 169.8V193.4M379.5 170.3V195.6M380.5 169.7V196.3M381.5 172V194.8M382.5 164.4V195.3M383.5 171.9V195.8M384.5 172.2V198.2M385.5 175V197.9M386.5 168.2V214.9M387.5 171.5V237.7M388.5 22.2V239.3M389.5 22.2V248.4M390.5 100.1V256.6M391.5 106V242.1M392.5 120.2V239.2M393.5 126.1V245.4M394.5 140.4V201.5M395.5 140.2V202.4M396.5 147.1V200.3M397.5 144.4V225.3M398.5 149.4V240.9M399.5 77.1V235.3M400.5 80V237.9M401.5 98V235M402.5 119.2V231.9M403.5 119.5V213.2M404.5 129V208.1M405.5 143.3V206.4M406.5 145.1V206.1M407.5 151.4V203.4M408.5 154.2V201.8M409.5 151.1V200.6M410.5 158.4V200.8M411.5 158.5V198.7M412.5 159.8V197.7M413.5 162.8V199.7M414.5 162.5V197.3M415.5 156.3V195.8M416.5 164.6V196.2M417.5 159.5V193.5M418.5 161V196.3M419.5 159.6V193.3M420.5 164.4V193.5M421.5 161.5V196.2M422.5 165.2V190.9M423.5 165V197.2M424.5 163.4V191.4M425.5 167.4V189.7M426.5 162.1V190.1M427.5 166.3V196.9M428.5 165.7V190.9M429.5 166V191M430.5 166.2V190M431.5 168.1V191.4M432.5 167.7V195.6M433.5 167.4V192.8M434.5 166.8V189.9M435.5 163.6V190M436.5 162.2V189.9M437.5 168.5V189.8M438.5 167.5V189.8M439.5 161.6V193.3M440.5 167.1V190.2M441.5 167.7V194.7M442.5 167.9V191.5M443.5 169.5V197.7M444.5 166V198.4M445.5 168.3V192.3M446.5 167.9V192.9M447.5 167.9V191.9M448.5 165.2V193.5M449.5 169.4V194.2M450.5 161.9V198.3M451.5 163.7V195M452.5 169.2V193.8M453.5 163.2V200.3M454.5 168.4V194.3M455.5 170.3V196.1M456.5 164.8V196.8M457.5 171V195.9M458.5 173.3V196.7M459.5 174V198M460.5 173V203.5M461.5 167.7V221.3M462.5 173.7V256.5M463.5 22.2V268.5M464.5 22.2V240.9M465.5 105.8V256.6M466.5 114.4V240.7M467.5 122.7V238.2M468.5 127.6V229.7M469.5 139.2V207.4M470.5 134.8V201.3M471.5 141.1V241.7M472.5 150V233.1M473.5 51.9V239.3M474.5 76.9V236.5M475.5 83.9V237.9M476.5 115.7V253.8M477.5 116.7V221.5M478.5 128.8V209.1M479.5 137.1V210.5M480.5 137.5V205.2M481.5 146.6V205.8M482.5 149.5V201.5M483.5 153.8V203.3M484.5 156.4V200.9M485.5 158.1V199M486.5 159.8V197.9M487.5 161.3V197.2M488.5 162.2V197.7M489.5 164.2V196.6M490.5 158.4V193.4M491.5 165.2V200.1M492.5 164.4V198.8M493.5 166.1V192.4M494.5 164.3V196.1M495.5 164.6V196.1M496.5 165.7V191.7M497.5 164.8V190.8M498.5 165.8V191.9M499.5 165.3V192.2M500.5 167.3V189.8M501.5 159.6V191.5M502.5 166.1V197.8M503.5 161.7V190.4M504.5 165.8V189.1M505.5 166.1V190.4M506.5 167.9V197M507.5 163.5V189.5M508.5 167.3V196.8M509.5 166.3V190.4M510.5 166.9V189.3M511.5 167.3V189.4M512.5 166.8V189.3M513.5 168.2V189.5M514.5 168.5V191.4M515.5 163.1V191.1M516.5 162.9V191.2M517.5 165V190.9M518.5 165.9V190.5M519.5 169.3V191.8M520.5 169.2V191M521.5 168.5V193.3M522.5 168.4V196.5M523.5 168.9V198.7M524.5 168.4V192.1M525.5 162.4V194.3M526.5 168.8V195M527.5 169.8V198.5M528.5 166.2V195.9M529.5 169.6V195.7M530.5 169.9V194.5M531.5 171.9V202.7M532.5 170.8V197.2M533.5 171.8V196.4M534.5 165.4V196.8M535.5 174.8V207M536.5 173.8V257.9M537.5 22.2V252.1M538.5 22.2V240.2M539.5 92.6V269.5M540.5 112.2V242.3M541.5 115.9V271.6M542.5 134V253.7M543.5 132.5V214.9M544.5 138.4V201.5M545.5 143.6V207.8M546.5 148.4V233.7M547.5 152.5V235.7M548.5 53.7V236.5"/>
<path stroke="#9c4e06" stroke-width="2" d="M88.4 22.2V431.8"/>
<path stroke="#a0520c" stroke-width="1.6" d="M99 40V329.5"/>
<path stroke="#994b00" stroke-width="1" d="M90.5 96.1V251.8"/>
<path stroke="#9c4e06" stroke-width="2" d="M163 22.2V431.8"/>
<path stroke="#a0520c" stroke-width="1.6" d="M174.1 54V323.7"/>
<path stroke="#994b00" stroke-width="1" d="M164.5 87.6V254.6"/>
<path stroke="#9c4e06" stroke-width="2" d="M238.2 22.2V431.8"/>
<path stroke="#a0520c" stroke-width="1.6" d="M248.5 49.5V337.2"/>
<path stroke="#994b00" stroke-width="1" d="M239.5 94.2V251.9"/>
<path stroke="#9c4e06" stroke-width="2" d="M313.5 22.2V431.8"/>
<path stroke="#a0520c" stroke-width="1.6" d="M324 49.5V329.5"/>
<path stroke="#994b00" stroke-width="1" d="M315.5 85.5V246.6"/>
<path stroke="#9c4e06" stroke-width="2" d="M388.5 22.2V431.8"/>
<path stroke="#a0520c" stroke-width="1.6" d="M399.2 26V343"/>
<path stroke="#994b00" stroke-width="1" d="M390.5 91.5V253.3"/>
<path stroke="#9c4e06" stroke-width="2" d="M463.3 22.2V431.8"/>
<path stroke="#a0520c" stroke-width="1.6" d="M473.6 54V327.5"/>
<path stroke="#994b00" stroke-width="1" d="M464.5 95.9V248.5"/>
<path stroke="#9c4e06" stroke-width="2" d="M537.7 22.2V431.8"/>
<path stroke="#a0520c" stroke-width="1.6" d="M548.6 25V330"/>
<path stroke="#994b00" stroke-width="1" d="M539.5 82.8V250.2"/>
<path stroke="#0649b4" stroke-width="1" d="M37.5 405V410.4M38.5 405.5V410.3M39.5 404.9V411.1M40.5 404.9V410.5M41.5 405.6V410.5M42.5 404.9V410.5M43.5 405.3V411M44.5 405.4V410.4M45.5 405.3V410.8M46.5 405.4V411M47.5 403.7V410.5M48.5 405V410.8M49.5 405.5V413M50.5 405.1V410.8M51.5 405.6V410.5M52.5 405.2V410.9M53.5 404.9V410.9M54.5 405.1V410.6M55.5 405.3V410.7M56.5 405.6V413.1M57.5 405.3V411M58.5 405.4V410.8M59.5 405.1V411M60.5 405.1V410.7M61.5 405.1V411M62.5 405.6V410.9M63.5 405.5V410.4M64.5 405.5V410.5M65.5 405.2V411.1M66.5 405.1V410.4M67.5 405.7V410.8M68.5 405.7V410.7M69.5 405.7V411M70.5 405.2V410.6M71.5 405.5V410.9M72.5 405.1V413.2M73.5 405.7V410.7M74.5 405.2V410.9M75.5 405.3V410.8M76.5 404.9V410.9M77.5 404.9V410.4M78.5 405.3V410.8M79.5 405.4V410.5M80.5 405.5V410.9M81.5 405.5V410.9M82.5 405.3V410.9M83.5 404.9V411M84.5 405.6V413M85.5 405.1V410.8M86.5 405.6V410.8M87.5 405.7V410.4M88.5 343.7V349.3M89.5 344.2V349.5M90.5 343.6V349.5M91.5 344.2V349M92.5 344.1V351.6M93.5 343.7V349.7M94.5 343.7V349.2M95.5 344.2V348.9M96.5 344V348.9M97.5 343.9V348.9M98.5 344.2V349.2M99.5 405.3V410.8M100.5 405V410.6M101.5 405.6V410.5M102.5 405.2V410.9M103.5 405.1V410.3M104.5 405.2V410.9M105.5 405.1V410.7M106.5 405.2V410.4M107.5 405.5V410.6M108.5 405.2V413.4M109.5 403.4V413.4M110.5 405.5V411M111.5 405V410.8M112.5 405.6V410.3M113.5 404.9V410.9M114.5 405.6V410.7M115.5 405V413.5M116.5 405.3V411M117.5 405.2V413.4M118.5 403.8V410.5M119.5 405.1V410.3M120.5 405.3V410.4M121.5 405.4V410.4M122.5 405.4V410.4M123.5 405V410.4M124.5 405.1V410.4M125.5 405.1V412.8M126.5 405.1V410.8M127.5 405.4V410.8M128.5 405.1V410.9M129.5 405.1V410.3M130.5 405.4V411M131.5 405.3V410.9M132.5 405.4V413.1M133.5 404.9V410.8M134.5 405V411.1M135.5 405.5V413.1M136.5 405V411M137.5 405.1V411M138.5 405.6V411M139.5 405.4V410.7M140.5 405.3V410.8M141.5 405.4V411M142.5 405.6V410.5M143.5 405.7V410.5M144.5 405.6V410.7M145.5 405.1V410.9M146.5 405.7V410.9M147.5 404.9V410.8M148.5 405.2V410.9M149.5 405.6V410.3M150.5 405.6V410.7M151.5 405.5V410.9M152.5 405.5V410.6M153.5 405.1V410.4M154.5 405V410.3M155.5 405V410.9M156.5 405.7V410.5M157.5 405.2V410.8M158.5 405.6V410.4M159.5 405.2V410.8M160.5 405.7V411M161.5 405.4V410.9M162.5 405.5V410.6M163.5 344.1V349.5M164.5 343.7V349.1M165.5 344V349.2M166.5 343.6V348.9M167.5 344.1V348.9M168.5 343.9V352M169.5 343.9V349M170.5 344.2V349M171.5 343.6V351.8M172.5 343.7V349.4M173.5 343.6V349M174.5 405.5V410.4M175.5 405.6V410.5M176.5 405.1V410.4M177.5 405.5V410.8M178.5 403.4V410.7M179.5 405.2V413.2M180.5 405.1V410.7M181.5 405.2V410.8M182.5 404.9V410.9M183.5 405V410.4M184.5 403.5V410.4M185.5 405.3V410.4M186.5 405.2V411.1M187.5 405.7V411.1M188.5 405.3V411.1M189.5 405.2V410.5M190.5 404.9V410.7M191.5 405.4V410.6M192.5 405.7V410.6M193.5 405.7V410.8M194.5 405.3V410.9M195.5 405.6V411.1M196.5 405.3V410.8M197.5 405.5V410.4M198.5 405.4V411M199.5 404.9V410.5M200.5 404.2V411M201.5 405.5V410.5M202.5 405.4V410.7M203.5 405.2V410.7M204.5 405.2V410.8M205.5 404.9V413M206.5 405.2V410.4M207.5 405.5V410.6M208.5 405.6V410.9M209.5 405.2V413.4M210.5 405.2V410.9M211.5 404.9V410.9M212.5 404.9V410.5M213.5 405V410.5M214.5 405.2V410.9M215.5 405.5V413M216.5 405.4V413.1M217.5 404.9V410.8M218.5 403.9V410.4M219.5 405.2V410.4M220.5 405.1V411M221.5 405.1V411.1M222.5 405.5V410.5M223.5 405V411M224.5 405.7V410.7M225.5 405.6V410.3M226.5 405.7V410.5M227.5 404.9V410.3M228.5 404.9V410.4M229.5 405.4V410.6M230.5 405.7V410.4M231.5 405.2V410.9M232.5 405.1V410.6M233.5 405V413.2M234.5 405.1V410.6M235.5 405.1V413.4M236.5 405.5V410.9M237.5 405.5V410.4M238.5 344.2V349.1M239.5 343.8V349.1M240.5 343.9V352M241.5 344.1V349.1M242.5 343.8V349.6M243.5 343.8V349.1M244.5 343.7V349.6M245.5 343.7V349.1M246.5 342.8V351.9M247.5 343.9V349M248.5 405.3V410.5M249.5 405.3V410.6M250.5 405.1V412.9M251.5 405.3V410.5M252.5 405.4V410.7M253.5 405.4V410.7M254.5 405.2V410.4M255.5 405.5V410.3M256.5 405.6V410.7M257.5 405.6V410.9M258.5 405.6V413.1M259.5 405.7V410.5M260.5 405.6V410.4M261.5 405V410.4M262.5 405.4V410.6M263.5 404.9V410.4M264.5 405V411M265.5 405.2V410.5M266.5 405.1V410.4M267.5 405.6V411M268.5 405.5V410.7M269.5 405V410.6M270.5 405.4V410.5M271.5 405V413.3M272.5 405.2V411M273.5 405V411M274.5 405.4V410.6M275.5 405.5V411M276.5 405V410.9M277.5 405.1V411.1M278.5 405V410.5M279.5 405V410.4M280.5 405V410.6M281.5 405V410.4M282.5 405.2V413.3M283.5 405.3V410.7M284.5 405.1V411M285.5 404V410.4M286.5 405.1V413M287.5 405.1V410.5M288.5 405.1V411.1M289.5 405V410.7M290.5 405.5V411M291.5 405.2V411M292.5 405.4V411M293.5 405.4V410.6M294.5 405.6V413.5M295.5 405.4V410.9M296.5 405.3V411M297.5 405.5V410.9M298.5 405V411.1M299.5 405.1V411M300.5 405.4V410.9M301.5 405.3V410.8M302.5 404.9V410.7M303.5 405V410.7M304.5 403.9V411M305.5 405.3V411M306.5 405.3V411M307.5 405.2V410.9M308.5 405.5V410.5M309.5 405.3V412.9M310.5 405.1V410.9M311.5 405.3V410.4M312.5 405.5V410.8M313.5 343.7V349.5M314.5 343.6V348.9M315.5 344.2V349M316.5 344.2V349.3M317.5 344V349.5M318.5 344.2V349.2M319.5 344.2V351.6M320.5 344V349.3M321.5 343.9V349.7M322.5 343.9V349.1M323.5 344.2V349M324.5 405.4V410.6M325.5 405.1V410.6M326.5 405.2V410.3M327.5 405.4V410.8M328.5 405.4V410.5M329.5 405.1V411.1M330.5 405V410.9M331.5 405.4V411.1M332.5 405.6V410.4M333.5 405.7V410.6M334.5 405.4V411M335.5 405V410.8M336.5 405.4V410.8M337.5 405.4V410.6M338.5 405.3V410.5M339.5 405.6V413.4M340.5 405.7V410.9M341.5 405.7V410.5M342.5 405V411.1M343.5 405.6V411M344.5 405.1V411M345.5 405V410.9M346.5 404.2V410.3M347.5 405.1V410.8M348.5 405.6V410.8M349.5 405.4V411.1M350.5 405.5V410.5M351.5 405.1V410.4M352.5 405.4V413.4M353.5 405.2V410.3M354.5 405.2V410.7M355.5 405.4V410.6M356.5 405V410.7M357.5 405.4V413.4M358.5 405.1V413.2M359.5 405.4V410.8M360.5 405.4V411.1M361.5 405.2V410.6M362.5 405V410.9M363.5 404.9V410.9M364.5 405.5V410.8M365.5 405.3V410.5M366.5 405V410.9M367.5 405.2V411M368.5 405V410.4M369.5 405.5V410.4M370.5 405.1V410.5M371.5 405.6V410.7M372.5 405.2V410.5M373.5 404.9V411.1M374.5 405.1V410.9M375.5 405.4V411.1M376.5 405.1V410.4M377.5 404.9V410.7M378.5 405.2V410.6M379.5 405.7V413.2M380.5 405V410.3M381.5 405.1V410.9M382.5 405.6V410.4M383.5 405.6V410.7M384.5 405V410.7M385.5 405V410.5M386.5 404.9V410.9M387.5 405V413.2M388.5 343.7V349.4M389.5 343.9V349.6M390.5 344.2V349.4M391.5 344.2V349M392.5 344.1V349.2M393.5 343.8V349M394.5 343.5V349.7M395.5 343.5V349.2M396.5 344.3V349.1M397.5 343.8V349.4M398.5 344V349.7M399.5 405V410.8M400.5 405.5V411.1M401.5 405.6V410.3M402.5 405.3V410.4M403.5 405.2V411M404.5 405.1V412.8M405.5 403.4V410.6M406.5 405.4V411M407.5 405.7V410.5M408.5 405.6V411M409.5 405.3V410.6M410.5 405.1V410.4M411.5 405.6V410.9M412.5 405.4V410.8M413.5 404.9V410.8M414.5 405.1V410.7M415.5 405.5V410.4M416.5 405.2V410.9M417.5 405.2V410.7M418.5 405.7V410.3M419.5 405.1V410.5M420.5 405.6V410.7M421.5 405.1V410.5M422.5 405.3V410.7M423.5 405.6V412.9M424.5 405.6V410.8M425.5 405.3V411M426.5 405.5V410.6M427.5 405.4V412.9M428.5 405V410.8M429.5 405.7V410.7M430.5 405.1V410.9M431.5 405.2V410.6M432.5 405V410.3M433.5 405.5V410.4M434.5 405.4V410.5M435.5 405.4V410.9M436.5 405.6V410.7M437.5 405.6V410.7M438.5 405.2V410.7M439.5 405V411M440.5 405.3V410.4M441.5 405.2V413.6M442.5 405.1V410.4M443.5 405.2V410.9M444.5 405.4V410.9M445.5 405.3V412.8M446.5 405V410.8M447.5 405.1V410.4M448.5 405.7V410.3M449.5 404.9V410.6M450.5 405V410.8M451.5 404.9V410.8M452.5 405.3V410.6M453.5 405.2V410.5M454.5 405.3V410.6M455.5 405.3V410.5M456.5 405.1V410.7M457.5 405.3V410.6M458.5 405.1V411M459.5 405.5V410.7M460.5 405.4V410.9M461.5 405.5V410.9M462.5 405.2V410.9M463.5 344V348.9M464.5 343.8V349.7M465.5 344V349M466.5 343.9V349.2M467.5 343.7V349.6M468.5 343.9V349.2M469.5 344.2V349M470.5 343.6V349.2M471.5 344V349.1M472.5 344.2V349.6M473.5 405.2V413M474.5 405.4V410.3M475.5 405.4V410.8M476.5 405.7V410.8M477.5 405.5V411M478.5 403.7V410.8M479.5 405.4V410.8M480.5 405.6V410.5M481.5 405.4V411M482.5 405.5V411M483.5 405.4V410.3M484.5 405.5V410.9M485.5 405.7V410.6M486.5 405.1V411M487.5 405.1V410.4M488.5 405.3V413.6M489.5 405.5V412.8M490.5 405.4V410.6M491.5 405.1V410.7M492.5 405.3V410.7M493.5 405.5V411M494.5 405.2V410.8M495.5 404.9V410.6M496.5 405.3V410.6M497.5 405.4V410.6M498.5 405.4V410.4M499.5 405.3V410.6M500.5 405.3V411M501.5 405.7V410.5M502.5 405.2V410.7M503.5 405.6V410.8M504.5 405.2V410.4M505.5 405.3V410.6M506.5 405.3V410.8M507.5 405.2V410.7M508.5 405.2V410.5M509.5 405.2V410.9M510.5 404.9V411M511.5 405.2V410.3M512.5 405.1V410.5M513.5 405V413.2M514.5 405.3V411M515.5 405V410.5M516.5 405.7V413.1M517.5 405.2V410.4M518.5 405.5V411M519.5 404.9V410.7M520.5 405V410.9M521.5 405.6V411M522.5 405V410.4M523.5 405.1V410.7M524.5 405.5V410.9M525.5 405.1V410.6M526.5 404.9V410.6M527.5 405.7V410.9M528.5 405.4V410.5M529.5 405.2V410.6M530.5 405V410.7M531.5 405.5V410.9M532.5 405.6V410.5M533.5 405.4V410.8M534.5 405.7V410.9M535.5 405.3V410.8M536.5 405.1V410.5M537.5 343.8V349.6M538.5 343.5V349.1M539.5 343.9V349M540.5 344V349M541.5 344.1V349.3M542.5 343.9V352.1M543.5 344.1V348.9M544.5 343.9V349.1M545.5 343.7V349.1M546.5 344V351.8M547.5 343.7V349M548.5 405.6V411"/>
<path stroke="#2f6cc8" stroke-width="1.1" d="M88.5 408V346.6M98.5 346.6V392M99.5 392V408M162.5 408V346.6M173.5 346.6V392M174.5 392V408M237.5 408V346.6M248.5 346.6V392M249.5 392V408M313.5 408V346.6M323.5 346.6V392M324.5 392V408M388.5 408V346.6M398.5 346.6V392M399.5 392V408M462.5 408V346.6M473.5 346.6V392M474.5 392V408M537.5 408V346.6M548.5 346V392"/>
<path fill="#afa68e" d="M799.1 32.1h1.4v1.4h-1.4zM799.1 42.4h1.4v1.4h-1.4zM799.1 52.6h1.4v1.4h-1.4zM799.1 62.9h1.4v1.4h-1.4zM799.1 73.1h1.4v1.4h-1.4zM799.1 83.3h1.4v1.4h-1.4zM799.1 93.6h1.4v1.4h-1.4zM799.1 103.8h1.4v1.4h-1.4zM799.1 114.1h1.4v1.4h-1.4zM799.1 124.3h1.4v1.4h-1.4zM799.1 134.5h1.4v1.4h-1.4zM799.1 144.8h1.4v1.4h-1.4zM799.1 155h1.4v1.4h-1.4zM799.1 165.3h1.4v1.4h-1.4zM799.1 175.5h1.4v1.4h-1.4zM799.1 185.7h1.4v1.4h-1.4zM799.1 196h1.4v1.4h-1.4zM799.1 206.2h1.4v1.4h-1.4zM799.1 216.5h1.4v1.4h-1.4zM799.1 226.7h1.4v1.4h-1.4zM799.1 236.9h1.4v1.4h-1.4zM799.1 247.2h1.4v1.4h-1.4zM799.1 257.4h1.4v1.4h-1.4zM799.1 267.7h1.4v1.4h-1.4zM799.1 277.9h1.4v1.4h-1.4zM799.1 288.1h1.4v1.4h-1.4zM799.1 298.4h1.4v1.4h-1.4zM799.1 308.6h1.4v1.4h-1.4zM799.1 318.9h1.4v1.4h-1.4zM799.1 329.1h1.4v1.4h-1.4zM799.1 339.3h1.4v1.4h-1.4zM799.1 349.6h1.4v1.4h-1.4zM799.1 359.8h1.4v1.4h-1.4zM799.1 370.1h1.4v1.4h-1.4zM799.1 380.3h1.4v1.4h-1.4zM799.1 390.5h1.4v1.4h-1.4zM799.1 400.8h1.4v1.4h-1.4zM799.1 411h1.4v1.4h-1.4zM799.1 421.3h1.4v1.4h-1.4zM850.3 32.1h1.4v1.4h-1.4zM850.3 42.4h1.4v1.4h-1.4zM850.3 52.6h1.4v1.4h-1.4zM850.3 62.9h1.4v1.4h-1.4zM850.3 73.1h1.4v1.4h-1.4zM850.3 83.3h1.4v1.4h-1.4zM850.3 93.6h1.4v1.4h-1.4zM850.3 103.8h1.4v1.4h-1.4zM850.3 114.1h1.4v1.4h-1.4zM850.3 124.3h1.4v1.4h-1.4zM850.3 134.5h1.4v1.4h-1.4zM850.3 144.8h1.4v1.4h-1.4zM850.3 155h1.4v1.4h-1.4zM850.3 165.3h1.4v1.4h-1.4zM850.3 175.5h1.4v1.4h-1.4zM850.3 185.7h1.4v1.4h-1.4zM850.3 196h1.4v1.4h-1.4zM850.3 206.2h1.4v1.4h-1.4zM850.3 216.5h1.4v1.4h-1.4zM850.3 226.7h1.4v1.4h-1.4zM850.3 236.9h1.4v1.4h-1.4zM850.3 247.2h1.4v1.4h-1.4zM850.3 257.4h1.4v1.4h-1.4zM850.3 267.7h1.4v1.4h-1.4zM850.3 277.9h1.4v1.4h-1.4zM850.3 288.1h1.4v1.4h-1.4zM850.3 298.4h1.4v1.4h-1.4zM850.3 308.6h1.4v1.4h-1.4zM850.3 318.9h1.4v1.4h-1.4zM850.3 329.1h1.4v1.4h-1.4zM850.3 339.3h1.4v1.4h-1.4zM850.3 349.6h1.4v1.4h-1.4zM850.3 359.8h1.4v1.4h-1.4zM850.3 370.1h1.4v1.4h-1.4zM850.3 380.3h1.4v1.4h-1.4zM850.3 390.5h1.4v1.4h-1.4zM850.3 400.8h1.4v1.4h-1.4zM850.3 411h1.4v1.4h-1.4zM850.3 421.3h1.4v1.4h-1.4zM901.5 32.1h1.4v1.4h-1.4zM901.5 42.4h1.4v1.4h-1.4zM901.5 52.6h1.4v1.4h-1.4zM901.5 62.9h1.4v1.4h-1.4zM901.5 73.1h1.4v1.4h-1.4zM901.5 83.3h1.4v1.4h-1.4zM901.5 93.6h1.4v1.4h-1.4zM901.5 103.8h1.4v1.4h-1.4zM901.5 114.1h1.4v1.4h-1.4zM901.5 124.3h1.4v1.4h-1.4zM901.5 134.5h1.4v1.4h-1.4zM901.5 144.8h1.4v1.4h-1.4zM901.5 155h1.4v1.4h-1.4zM901.5 165.3h1.4v1.4h-1.4zM901.5 175.5h1.4v1.4h-1.4zM901.5 185.7h1.4v1.4h-1.4zM901.5 196h1.4v1.4h-1.4zM901.5 206.2h1.4v1.4h-1.4zM901.5 216.5h1.4v1.4h-1.4zM901.5 226.7h1.4v1.4h-1.4zM901.5 236.9h1.4v1.4h-1.4zM901.5 247.2h1.4v1.4h-1.4zM901.5 257.4h1.4v1.4h-1.4zM901.5 267.7h1.4v1.4h-1.4zM901.5 277.9h1.4v1.4h-1.4zM901.5 288.1h1.4v1.4h-1.4zM901.5 298.4h1.4v1.4h-1.4zM901.5 308.6h1.4v1.4h-1.4zM901.5 318.9h1.4v1.4h-1.4zM901.5 329.1h1.4v1.4h-1.4zM901.5 339.3h1.4v1.4h-1.4zM901.5 349.6h1.4v1.4h-1.4zM901.5 359.8h1.4v1.4h-1.4zM901.5 370.1h1.4v1.4h-1.4zM901.5 380.3h1.4v1.4h-1.4zM901.5 390.5h1.4v1.4h-1.4zM901.5 400.8h1.4v1.4h-1.4zM901.5 411h1.4v1.4h-1.4zM901.5 421.3h1.4v1.4h-1.4zM952.7 32.1h1.4v1.4h-1.4zM952.7 42.4h1.4v1.4h-1.4zM952.7 52.6h1.4v1.4h-1.4zM952.7 62.9h1.4v1.4h-1.4zM952.7 73.1h1.4v1.4h-1.4zM952.7 83.3h1.4v1.4h-1.4zM952.7 93.6h1.4v1.4h-1.4zM952.7 103.8h1.4v1.4h-1.4zM952.7 114.1h1.4v1.4h-1.4zM952.7 124.3h1.4v1.4h-1.4zM952.7 134.5h1.4v1.4h-1.4zM952.7 144.8h1.4v1.4h-1.4zM952.7 155h1.4v1.4h-1.4zM952.7 165.3h1.4v1.4h-1.4zM952.7 175.5h1.4v1.4h-1.4zM952.7 185.7h1.4v1.4h-1.4zM952.7 196h1.4v1.4h-1.4zM952.7 206.2h1.4v1.4h-1.4zM952.7 216.5h1.4v1.4h-1.4zM952.7 226.7h1.4v1.4h-1.4zM952.7 236.9h1.4v1.4h-1.4zM952.7 247.2h1.4v1.4h-1.4zM952.7 257.4h1.4v1.4h-1.4zM952.7 267.7h1.4v1.4h-1.4zM952.7 277.9h1.4v1.4h-1.4zM952.7 288.1h1.4v1.4h-1.4zM952.7 298.4h1.4v1.4h-1.4zM952.7 308.6h1.4v1.4h-1.4zM952.7 318.9h1.4v1.4h-1.4zM952.7 329.1h1.4v1.4h-1.4zM952.7 339.3h1.4v1.4h-1.4zM952.7 349.6h1.4v1.4h-1.4zM952.7 359.8h1.4v1.4h-1.4zM952.7 370.1h1.4v1.4h-1.4zM952.7 380.3h1.4v1.4h-1.4zM952.7 390.5h1.4v1.4h-1.4zM952.7 400.8h1.4v1.4h-1.4zM952.7 411h1.4v1.4h-1.4zM952.7 421.3h1.4v1.4h-1.4zM1055.1 32.1h1.4v1.4h-1.4zM1055.1 42.4h1.4v1.4h-1.4zM1055.1 52.6h1.4v1.4h-1.4zM1055.1 62.9h1.4v1.4h-1.4zM1055.1 73.1h1.4v1.4h-1.4zM1055.1 83.3h1.4v1.4h-1.4zM1055.1 93.6h1.4v1.4h-1.4zM1055.1 103.8h1.4v1.4h-1.4zM1055.1 114.1h1.4v1.4h-1.4zM1055.1 124.3h1.4v1.4h-1.4zM1055.1 134.5h1.4v1.4h-1.4zM1055.1 144.8h1.4v1.4h-1.4zM1055.1 155h1.4v1.4h-1.4zM1055.1 165.3h1.4v1.4h-1.4zM1055.1 175.5h1.4v1.4h-1.4zM1055.1 185.7h1.4v1.4h-1.4zM1055.1 196h1.4v1.4h-1.4zM1055.1 206.2h1.4v1.4h-1.4zM1055.1 216.5h1.4v1.4h-1.4zM1055.1 226.7h1.4v1.4h-1.4zM1055.1 236.9h1.4v1.4h-1.4zM1055.1 247.2h1.4v1.4h-1.4zM1055.1 257.4h1.4v1.4h-1.4zM1055.1 267.7h1.4v1.4h-1.4zM1055.1 277.9h1.4v1.4h-1.4zM1055.1 288.1h1.4v1.4h-1.4zM1055.1 298.4h1.4v1.4h-1.4zM1055.1 308.6h1.4v1.4h-1.4zM1055.1 318.9h1.4v1.4h-1.4zM1055.1 329.1h1.4v1.4h-1.4zM1055.1 339.3h1.4v1.4h-1.4zM1055.1 349.6h1.4v1.4h-1.4zM1055.1 359.8h1.4v1.4h-1.4zM1055.1 370.1h1.4v1.4h-1.4zM1055.1 380.3h1.4v1.4h-1.4zM1055.1 390.5h1.4v1.4h-1.4zM1055.1 400.8h1.4v1.4h-1.4zM1055.1 411h1.4v1.4h-1.4zM1055.1 421.3h1.4v1.4h-1.4zM1106.3 32.1h1.4v1.4h-1.4zM1106.3 42.4h1.4v1.4h-1.4zM1106.3 52.6h1.4v1.4h-1.4zM1106.3 62.9h1.4v1.4h-1.4zM1106.3 73.1h1.4v1.4h-1.4zM1106.3 83.3h1.4v1.4h-1.4zM1106.3 93.6h1.4v1.4h-1.4zM1106.3 103.8h1.4v1.4h-1.4zM1106.3 114.1h1.4v1.4h-1.4zM1106.3 124.3h1.4v1.4h-1.4zM1106.3 134.5h1.4v1.4h-1.4zM1106.3 144.8h1.4v1.4h-1.4zM1106.3 155h1.4v1.4h-1.4zM1106.3 165.3h1.4v1.4h-1.4zM1106.3 175.5h1.4v1.4h-1.4zM1106.3 185.7h1.4v1.4h-1.4zM1106.3 196h1.4v1.4h-1.4zM1106.3 206.2h1.4v1.4h-1.4zM1106.3 216.5h1.4v1.4h-1.4zM1106.3 226.7h1.4v1.4h-1.4zM1106.3 236.9h1.4v1.4h-1.4zM1106.3 247.2h1.4v1.4h-1.4zM1106.3 257.4h1.4v1.4h-1.4zM1106.3 267.7h1.4v1.4h-1.4zM1106.3 277.9h1.4v1.4h-1.4zM1106.3 288.1h1.4v1.4h-1.4zM1106.3 298.4h1.4v1.4h-1.4zM1106.3 308.6h1.4v1.4h-1.4zM1106.3 318.9h1.4v1.4h-1.4zM1106.3 329.1h1.4v1.4h-1.4zM1106.3 339.3h1.4v1.4h-1.4zM1106.3 349.6h1.4v1.4h-1.4zM1106.3 359.8h1.4v1.4h-1.4zM1106.3 370.1h1.4v1.4h-1.4zM1106.3 380.3h1.4v1.4h-1.4zM1106.3 390.5h1.4v1.4h-1.4zM1106.3 400.8h1.4v1.4h-1.4zM1106.3 411h1.4v1.4h-1.4zM1106.3 421.3h1.4v1.4h-1.4zM1157.5 32.1h1.4v1.4h-1.4zM1157.5 42.4h1.4v1.4h-1.4zM1157.5 52.6h1.4v1.4h-1.4zM1157.5 62.9h1.4v1.4h-1.4zM1157.5 73.1h1.4v1.4h-1.4zM1157.5 83.3h1.4v1.4h-1.4zM1157.5 93.6h1.4v1.4h-1.4zM1157.5 103.8h1.4v1.4h-1.4zM1157.5 114.1h1.4v1.4h-1.4zM1157.5 124.3h1.4v1.4h-1.4zM1157.5 134.5h1.4v1.4h-1.4zM1157.5 144.8h1.4v1.4h-1.4zM1157.5 155h1.4v1.4h-1.4zM1157.5 165.3h1.4v1.4h-1.4zM1157.5 175.5h1.4v1.4h-1.4zM1157.5 185.7h1.4v1.4h-1.4zM1157.5 196h1.4v1.4h-1.4zM1157.5 206.2h1.4v1.4h-1.4zM1157.5 216.5h1.4v1.4h-1.4zM1157.5 226.7h1.4v1.4h-1.4zM1157.5 236.9h1.4v1.4h-1.4zM1157.5 247.2h1.4v1.4h-1.4zM1157.5 257.4h1.4v1.4h-1.4zM1157.5 267.7h1.4v1.4h-1.4zM1157.5 277.9h1.4v1.4h-1.4zM1157.5 288.1h1.4v1.4h-1.4zM1157.5 298.4h1.4v1.4h-1.4zM1157.5 308.6h1.4v1.4h-1.4zM1157.5 318.9h1.4v1.4h-1.4zM1157.5 329.1h1.4v1.4h-1.4zM1157.5 339.3h1.4v1.4h-1.4zM1157.5 349.6h1.4v1.4h-1.4zM1157.5 359.8h1.4v1.4h-1.4zM1157.5 370.1h1.4v1.4h-1.4zM1157.5 380.3h1.4v1.4h-1.4zM1157.5 390.5h1.4v1.4h-1.4zM1157.5 400.8h1.4v1.4h-1.4zM1157.5 411h1.4v1.4h-1.4zM1157.5 421.3h1.4v1.4h-1.4zM1208.7 32.1h1.4v1.4h-1.4zM1208.7 42.4h1.4v1.4h-1.4zM1208.7 52.6h1.4v1.4h-1.4zM1208.7 62.9h1.4v1.4h-1.4zM1208.7 73.1h1.4v1.4h-1.4zM1208.7 83.3h1.4v1.4h-1.4zM1208.7 93.6h1.4v1.4h-1.4zM1208.7 103.8h1.4v1.4h-1.4zM1208.7 114.1h1.4v1.4h-1.4zM1208.7 124.3h1.4v1.4h-1.4zM1208.7 134.5h1.4v1.4h-1.4zM1208.7 144.8h1.4v1.4h-1.4zM1208.7 155h1.4v1.4h-1.4zM1208.7 165.3h1.4v1.4h-1.4zM1208.7 175.5h1.4v1.4h-1.4zM1208.7 185.7h1.4v1.4h-1.4zM1208.7 196h1.4v1.4h-1.4zM1208.7 206.2h1.4v1.4h-1.4zM1208.7 216.5h1.4v1.4h-1.4zM1208.7 226.7h1.4v1.4h-1.4zM1208.7 236.9h1.4v1.4h-1.4zM1208.7 247.2h1.4v1.4h-1.4zM1208.7 257.4h1.4v1.4h-1.4zM1208.7 267.7h1.4v1.4h-1.4zM1208.7 277.9h1.4v1.4h-1.4zM1208.7 288.1h1.4v1.4h-1.4zM1208.7 298.4h1.4v1.4h-1.4zM1208.7 308.6h1.4v1.4h-1.4zM1208.7 318.9h1.4v1.4h-1.4zM1208.7 329.1h1.4v1.4h-1.4zM1208.7 339.3h1.4v1.4h-1.4zM1208.7 349.6h1.4v1.4h-1.4zM1208.7 359.8h1.4v1.4h-1.4zM1208.7 370.1h1.4v1.4h-1.4zM1208.7 380.3h1.4v1.4h-1.4zM1208.7 390.5h1.4v1.4h-1.4zM1208.7 400.8h1.4v1.4h-1.4zM1208.7 411h1.4v1.4h-1.4zM1208.7 421.3h1.4v1.4h-1.4zM758.1 73.1h1.4v1.4h-1.4zM768.4 73.1h1.4v1.4h-1.4zM778.6 73.1h1.4v1.4h-1.4zM788.9 73.1h1.4v1.4h-1.4zM809.3 73.1h1.4v1.4h-1.4zM819.6 73.1h1.4v1.4h-1.4zM829.8 73.1h1.4v1.4h-1.4zM840.1 73.1h1.4v1.4h-1.4zM860.5 73.1h1.4v1.4h-1.4zM870.8 73.1h1.4v1.4h-1.4zM881 73.1h1.4v1.4h-1.4zM891.3 73.1h1.4v1.4h-1.4zM911.7 73.1h1.4v1.4h-1.4zM922 73.1h1.4v1.4h-1.4zM932.2 73.1h1.4v1.4h-1.4zM942.5 73.1h1.4v1.4h-1.4zM962.9 73.1h1.4v1.4h-1.4zM973.2 73.1h1.4v1.4h-1.4zM983.4 73.1h1.4v1.4h-1.4zM993.7 73.1h1.4v1.4h-1.4zM1014.1 73.1h1.4v1.4h-1.4zM1024.4 73.1h1.4v1.4h-1.4zM1034.6 73.1h1.4v1.4h-1.4zM1044.9 73.1h1.4v1.4h-1.4zM1065.3 73.1h1.4v1.4h-1.4zM1075.6 73.1h1.4v1.4h-1.4zM1085.8 73.1h1.4v1.4h-1.4zM1096.1 73.1h1.4v1.4h-1.4zM1116.5 73.1h1.4v1.4h-1.4zM1126.8 73.1h1.4v1.4h-1.4zM1137 73.1h1.4v1.4h-1.4zM1147.3 73.1h1.4v1.4h-1.4zM1167.7 73.1h1.4v1.4h-1.4zM1178 73.1h1.4v1.4h-1.4zM1188.2 73.1h1.4v1.4h-1.4zM1198.5 73.1h1.4v1.4h-1.4zM1218.9 73.1h1.4v1.4h-1.4zM1229.2 73.1h1.4v1.4h-1.4zM1239.4 73.1h1.4v1.4h-1.4zM1249.7 73.1h1.4v1.4h-1.4zM758.1 124.3h1.4v1.4h-1.4zM768.4 124.3h1.4v1.4h-1.4zM778.6 124.3h1.4v1.4h-1.4zM788.9 124.3h1.4v1.4h-1.4zM809.3 124.3h1.4v1.4h-1.4zM819.6 124.3h1.4v1.4h-1.4zM829.8 124.3h1.4v1.4h-1.4zM840.1 124.3h1.4v1.4h-1.4zM860.5 124.3h1.4v1.4h-1.4zM870.8 124.3h1.4v1.4h-1.4zM881 124.3h1.4v1.4h-1.4zM891.3 124.3h1.4v1.4h-1.4zM911.7 124.3h1.4v1.4h-1.4zM922 124.3h1.4v1.4h-1.4zM932.2 124.3h1.4v1.4h-1.4zM942.5 124.3h1.4v1.4h-1.4zM962.9 124.3h1.4v1.4h-1.4zM973.2 124.3h1.4v1.4h-1.4zM983.4 124.3h1.4v1.4h-1.4zM993.7 124.3h1.4v1.4h-1.4zM1014.1 124.3h1.4v1.4h-1.4zM1024.4 124.3h1.4v1.4h-1.4zM1034.6 124.3h1.4v1.4h-1.4zM1044.9 124.3h1.4v1.4h-1.4zM1065.3 124.3h1.4v1.4h-1.4zM1075.6 124.3h1.4v1.4h-1.4zM1085.8 124.3h1.4v1.4h-1.4zM1096.1 124.3h1.4v1.4h-1.4zM1116.5 124.3h1.4v1.4h-1.4zM1126.8 124.3h1.4v1.4h-1.4zM1137 124.3h1.4v1.4h-1.4zM1147.3 124.3h1.4v1.4h-1.4zM1167.7 124.3h1.4v1.4h-1.4zM1178 124.3h1.4v1.4h-1.4zM1188.2 124.3h1.4v1.4h-1.4zM1198.5 124.3h1.4v1.4h-1.4zM1218.9 124.3h1.4v1.4h-1.4zM1229.2 124.3h1.4v1.4h-1.4zM1239.4 124.3h1.4v1.4h-1.4zM1249.7 124.3h1.4v1.4h-1.4zM758.1 175.5h1.4v1.4h-1.4zM768.4 175.5h1.4v1.4h-1.4zM778.6 175.5h1.4v1.4h-1.4zM788.9 175.5h1.4v1.4h-1.4zM809.3 175.5h1.4v1.4h-1.4zM819.6 175.5h1.4v1.4h-1.4zM829.8 175.5h1.4v1.4h-1.4zM840.1 175.5h1.4v1.4h-1.4zM860.5 175.5h1.4v1.4h-1.4zM870.8 175.5h1.4v1.4h-1.4zM881 175.5h1.4v1.4h-1.4zM891.3 175.5h1.4v1.4h-1.4zM911.7 175.5h1.4v1.4h-1.4zM922 175.5h1.4v1.4h-1.4zM932.2 175.5h1.4v1.4h-1.4zM942.5 175.5h1.4v1.4h-1.4zM962.9 175.5h1.4v1.4h-1.4zM973.2 175.5h1.4v1.4h-1.4zM983.4 175.5h1.4v1.4h-1.4zM993.7 175.5h1.4v1.4h-1.4zM1014.1 175.5h1.4v1.4h-1.4zM1024.4 175.5h1.4v1.4h-1.4zM1034.6 175.5h1.4v1.4h-1.4zM1044.9 175.5h1.4v1.4h-1.4zM1065.3 175.5h1.4v1.4h-1.4zM1075.6 175.5h1.4v1.4h-1.4zM1085.8 175.5h1.4v1.4h-1.4zM1096.1 175.5h1.4v1.4h-1.4zM1116.5 175.5h1.4v1.4h-1.4zM1126.8 175.5h1.4v1.4h-1.4zM1137 175.5h1.4v1.4h-1.4zM1147.3 175.5h1.4v1.4h-1.4zM1167.7 175.5h1.4v1.4h-1.4zM1178 175.5h1.4v1.4h-1.4zM1188.2 175.5h1.4v1.4h-1.4zM1198.5 175.5h1.4v1.4h-1.4zM1218.9 175.5h1.4v1.4h-1.4zM1229.2 175.5h1.4v1.4h-1.4zM1239.4 175.5h1.4v1.4h-1.4zM1249.7 175.5h1.4v1.4h-1.4zM758.1 277.9h1.4v1.4h-1.4zM768.4 277.9h1.4v1.4h-1.4zM778.6 277.9h1.4v1.4h-1.4zM788.9 277.9h1.4v1.4h-1.4zM809.3 277.9h1.4v1.4h-1.4zM819.6 277.9h1.4v1.4h-1.4zM829.8 277.9h1.4v1.4h-1.4zM840.1 277.9h1.4v1.4h-1.4zM860.5 277.9h1.4v1.4h-1.4zM870.8 277.9h1.4v1.4h-1.4zM881 277.9h1.4v1.4h-1.4zM891.3 277.9h1.4v1.4h-1.4zM911.7 277.9h1.4v1.4h-1.4zM922 277.9h1.4v1.4h-1.4zM932.2 277.9h1.4v1.4h-1.4zM942.5 277.9h1.4v1.4h-1.4zM962.9 277.9h1.4v1.4h-1.4zM973.2 277.9h1.4v1.4h-1.4zM983.4 277.9h1.4v1.4h-1.4zM993.7 277.9h1.4v1.4h-1.4zM1014.1 277.9h1.4v1.4h-1.4zM1024.4 277.9h1.4v1.4h-1.4zM1034.6 277.9h1.4v1.4h-1.4zM1044.9 277.9h1.4v1.4h-1.4zM1065.3 277.9h1.4v1.4h-1.4zM1075.6 277.9h1.4v1.4h-1.4zM1085.8 277.9h1.4v1.4h-1.4zM1096.1 277.9h1.4v1.4h-1.4zM1116.5 277.9h1.4v1.4h-1.4zM1126.8 277.9h1.4v1.4h-1.4zM1137 277.9h1.4v1.4h-1.4zM1147.3 277.9h1.4v1.4h-1.4zM1167.7 277.9h1.4v1.4h-1.4zM1178 277.9h1.4v1.4h-1.4zM1188.2 277.9h1.4v1.4h-1.4zM1198.5 277.9h1.4v1.4h-1.4zM1218.9 277.9h1.4v1.4h-1.4zM1229.2 277.9h1.4v1.4h-1.4zM1239.4 277.9h1.4v1.4h-1.4zM1249.7 277.9h1.4v1.4h-1.4zM758.1 329.1h1.4v1.4h-1.4zM768.4 329.1h1.4v1.4h-1.4zM778.6 329.1h1.4v1.4h-1.4zM788.9 329.1h1.4v1.4h-1.4zM809.3 329.1h1.4v1.4h-1.4zM819.6 329.1h1.4v1.4h-1.4zM829.8 329.1h1.4v1.4h-1.4zM840.1 329.1h1.4v1.4h-1.4zM860.5 329.1h1.4v1.4h-1.4zM870.8 329.1h1.4v1.4h-1.4zM881 329.1h1.4v1.4h-1.4zM891.3 329.1h1.4v1.4h-1.4zM911.7 329.1h1.4v1.4h-1.4zM922 329.1h1.4v1.4h-1.4zM932.2 329.1h1.4v1.4h-1.4zM942.5 329.1h1.4v1.4h-1.4zM962.9 329.1h1.4v1.4h-1.4zM973.2 329.1h1.4v1.4h-1.4zM983.4 329.1h1.4v1.4h-1.4zM993.7 329.1h1.4v1.4h-1.4zM1014.1 329.1h1.4v1.4h-1.4zM1024.4 329.1h1.4v1.4h-1.4zM1034.6 329.1h1.4v1.4h-1.4zM1044.9 329.1h1.4v1.4h-1.4zM1065.3 329.1h1.4v1.4h-1.4zM1075.6 329.1h1.4v1.4h-1.4zM1085.8 329.1h1.4v1.4h-1.4zM1096.1 329.1h1.4v1.4h-1.4zM1116.5 329.1h1.4v1.4h-1.4zM1126.8 329.1h1.4v1.4h-1.4zM1137 329.1h1.4v1.4h-1.4zM1147.3 329.1h1.4v1.4h-1.4zM1167.7 329.1h1.4v1.4h-1.4zM1178 329.1h1.4v1.4h-1.4zM1188.2 329.1h1.4v1.4h-1.4zM1198.5 329.1h1.4v1.4h-1.4zM1218.9 329.1h1.4v1.4h-1.4zM1229.2 329.1h1.4v1.4h-1.4zM1239.4 329.1h1.4v1.4h-1.4zM1249.7 329.1h1.4v1.4h-1.4zM758.1 380.3h1.4v1.4h-1.4zM768.4 380.3h1.4v1.4h-1.4zM778.6 380.3h1.4v1.4h-1.4zM788.9 380.3h1.4v1.4h-1.4zM809.3 380.3h1.4v1.4h-1.4zM819.6 380.3h1.4v1.4h-1.4zM829.8 380.3h1.4v1.4h-1.4zM840.1 380.3h1.4v1.4h-1.4zM860.5 380.3h1.4v1.4h-1.4zM870.8 380.3h1.4v1.4h-1.4zM881 380.3h1.4v1.4h-1.4zM891.3 380.3h1.4v1.4h-1.4zM911.7 380.3h1.4v1.4h-1.4zM922 380.3h1.4v1.4h-1.4zM932.2 380.3h1.4v1.4h-1.4zM942.5 380.3h1.4v1.4h-1.4zM962.9 380.3h1.4v1.4h-1.4zM973.2 380.3h1.4v1.4h-1.4zM983.4 380.3h1.4v1.4h-1.4zM993.7 380.3h1.4v1.4h-1.4zM1014.1 380.3h1.4v1.4h-1.4zM1024.4 380.3h1.4v1.4h-1.4zM1034.6 380.3h1.4v1.4h-1.4zM1044.9 380.3h1.4v1.4h-1.4zM1065.3 380.3h1.4v1.4h-1.4zM1075.6 380.3h1.4v1.4h-1.4zM1085.8 380.3h1.4v1.4h-1.4zM1096.1 380.3h1.4v1.4h-1.4zM1116.5 380.3h1.4v1.4h-1.4zM1126.8 380.3h1.4v1.4h-1.4zM1137 380.3h1.4v1.4h-1.4zM1147.3 380.3h1.4v1.4h-1.4zM1167.7 380.3h1.4v1.4h-1.4zM1178 380.3h1.4v1.4h-1.4zM1188.2 380.3h1.4v1.4h-1.4zM1198.5 380.3h1.4v1.4h-1.4zM1218.9 380.3h1.4v1.4h-1.4zM1229.2 380.3h1.4v1.4h-1.4zM1239.4 380.3h1.4v1.4h-1.4zM1249.7 380.3h1.4v1.4h-1.4z"/>
<path fill="none" stroke="#afa68e" stroke-width="1.8" d="M748.6 22.6H1260.6V432.2H748.6ZM1004.6 22.6V432.2M748.6 227.4H1260.6M758.8 22.6v4.5M758.8 432.2v-4.5M758.8 223.2v8.4M769.1 22.6v4.5M769.1 432.2v-4.5M769.1 223.2v8.4M779.3 22.6v4.5M779.3 432.2v-4.5M779.3 223.2v8.4M789.6 22.6v4.5M789.6 432.2v-4.5M789.6 223.2v8.4M799.8 22.6v9.5M799.8 432.2v-9.5M799.8 219.9v15M810 22.6v4.5M810 432.2v-4.5M810 223.2v8.4M820.3 22.6v4.5M820.3 432.2v-4.5M820.3 223.2v8.4M830.5 22.6v4.5M830.5 432.2v-4.5M830.5 223.2v8.4M840.8 22.6v4.5M840.8 432.2v-4.5M840.8 223.2v8.4M851 22.6v9.5M851 432.2v-9.5M851 219.9v15M861.2 22.6v4.5M861.2 432.2v-4.5M861.2 223.2v8.4M871.5 22.6v4.5M871.5 432.2v-4.5M871.5 223.2v8.4M881.7 22.6v4.5M881.7 432.2v-4.5M881.7 223.2v8.4M892 22.6v4.5M892 432.2v-4.5M892 223.2v8.4M902.2 22.6v9.5M902.2 432.2v-9.5M902.2 219.9v15M912.4 22.6v4.5M912.4 432.2v-4.5M912.4 223.2v8.4M922.7 22.6v4.5M922.7 432.2v-4.5M922.7 223.2v8.4M932.9 22.6v4.5M932.9 432.2v-4.5M932.9 223.2v8.4M943.2 22.6v4.5M943.2 432.2v-4.5M943.2 223.2v8.4M953.4 22.6v9.5M953.4 432.2v-9.5M953.4 219.9v15M963.6 22.6v4.5M963.6 432.2v-4.5M963.6 223.2v8.4M973.9 22.6v4.5M973.9 432.2v-4.5M973.9 223.2v8.4M984.1 22.6v4.5M984.1 432.2v-4.5M984.1 223.2v8.4M994.4 22.6v4.5M994.4 432.2v-4.5M994.4 223.2v8.4M1004.6 22.6v9.5M1004.6 432.2v-9.5M1004.6 219.9v15M1014.8 22.6v4.5M1014.8 432.2v-4.5M1014.8 223.2v8.4M1025.1 22.6v4.5M1025.1 432.2v-4.5M1025.1 223.2v8.4M1035.3 22.6v4.5M1035.3 432.2v-4.5M1035.3 223.2v8.4M1045.6 22.6v4.5M1045.6 432.2v-4.5M1045.6 223.2v8.4M1055.8 22.6v9.5M1055.8 432.2v-9.5M1055.8 219.9v15M1066 22.6v4.5M1066 432.2v-4.5M1066 223.2v8.4M1076.3 22.6v4.5M1076.3 432.2v-4.5M1076.3 223.2v8.4M1086.5 22.6v4.5M1086.5 432.2v-4.5M1086.5 223.2v8.4M1096.8 22.6v4.5M1096.8 432.2v-4.5M1096.8 223.2v8.4M1107 22.6v9.5M1107 432.2v-9.5M1107 219.9v15M1117.2 22.6v4.5M1117.2 432.2v-4.5M1117.2 223.2v8.4M1127.5 22.6v4.5M1127.5 432.2v-4.5M1127.5 223.2v8.4M1137.7 22.6v4.5M1137.7 432.2v-4.5M1137.7 223.2v8.4M1148 22.6v4.5M1148 432.2v-4.5M1148 223.2v8.4M1158.2 22.6v9.5M1158.2 432.2v-9.5M1158.2 219.9v15M1168.4 22.6v4.5M1168.4 432.2v-4.5M1168.4 223.2v8.4M1178.7 22.6v4.5M1178.7 432.2v-4.5M1178.7 223.2v8.4M1188.9 22.6v4.5M1188.9 432.2v-4.5M1188.9 223.2v8.4M1199.2 22.6v4.5M1199.2 432.2v-4.5M1199.2 223.2v8.4M1209.4 22.6v9.5M1209.4 432.2v-9.5M1209.4 219.9v15M1219.6 22.6v4.5M1219.6 432.2v-4.5M1219.6 223.2v8.4M1229.9 22.6v4.5M1229.9 432.2v-4.5M1229.9 223.2v8.4M1240.1 22.6v4.5M1240.1 432.2v-4.5M1240.1 223.2v8.4M1250.4 22.6v4.5M1250.4 432.2v-4.5M1250.4 223.2v8.4M748.6 32.8h4.5M1260.6 32.8h-4.5M1000.4 32.8h8.4M748.6 43.1h4.5M1260.6 43.1h-4.5M1000.4 43.1h8.4M748.6 53.3h4.5M1260.6 53.3h-4.5M1000.4 53.3h8.4M748.6 63.6h4.5M1260.6 63.6h-4.5M1000.4 63.6h8.4M748.6 73.8h9.5M1260.6 73.8h-9.5M997.1 73.8h15M748.6 84h4.5M1260.6 84h-4.5M1000.4 84h8.4M748.6 94.3h4.5M1260.6 94.3h-4.5M1000.4 94.3h8.4M748.6 104.5h4.5M1260.6 104.5h-4.5M1000.4 104.5h8.4M748.6 114.8h4.5M1260.6 114.8h-4.5M1000.4 114.8h8.4M748.6 125h9.5M1260.6 125h-9.5M997.1 125h15M748.6 135.2h4.5M1260.6 135.2h-4.5M1000.4 135.2h8.4M748.6 145.5h4.5M1260.6 145.5h-4.5M1000.4 145.5h8.4M748.6 155.7h4.5M1260.6 155.7h-4.5M1000.4 155.7h8.4M748.6 166h4.5M1260.6 166h-4.5M1000.4 166h8.4M748.6 176.2h9.5M1260.6 176.2h-9.5M997.1 176.2h15M748.6 186.4h4.5M1260.6 186.4h-4.5M1000.4 186.4h8.4M748.6 196.7h4.5M1260.6 196.7h-4.5M1000.4 196.7h8.4M748.6 206.9h4.5M1260.6 206.9h-4.5M1000.4 206.9h8.4M748.6 217.2h4.5M1260.6 217.2h-4.5M1000.4 217.2h8.4M748.6 227.4h9.5M1260.6 227.4h-9.5M997.1 227.4h15M748.6 237.6h4.5M1260.6 237.6h-4.5M1000.4 237.6h8.4M748.6 247.9h4.5M1260.6 247.9h-4.5M1000.4 247.9h8.4M748.6 258.1h4.5M1260.6 258.1h-4.5M1000.4 258.1h8.4M748.6 268.4h4.5M1260.6 268.4h-4.5M1000.4 268.4h8.4M748.6 278.6h9.5M1260.6 278.6h-9.5M997.1 278.6h15M748.6 288.8h4.5M1260.6 288.8h-4.5M1000.4 288.8h8.4M748.6 299.1h4.5M1260.6 299.1h-4.5M1000.4 299.1h8.4M748.6 309.3h4.5M1260.6 309.3h-4.5M1000.4 309.3h8.4M748.6 319.6h4.5M1260.6 319.6h-4.5M1000.4 319.6h8.4M748.6 329.8h9.5M1260.6 329.8h-9.5M997.1 329.8h15M748.6 340h4.5M1260.6 340h-4.5M1000.4 340h8.4M748.6 350.3h4.5M1260.6 350.3h-4.5M1000.4 350.3h8.4M748.6 360.5h4.5M1260.6 360.5h-4.5M1000.4 360.5h8.4M748.6 370.8h4.5M1260.6 370.8h-4.5M1000.4 370.8h8.4M748.6 381h9.5M1260.6 381h-9.5M997.1 381h15M748.6 391.2h4.5M1260.6 391.2h-4.5M1000.4 391.2h8.4M748.6 401.5h4.5M1260.6 401.5h-4.5M1000.4 401.5h8.4M748.6 411.7h4.5M1260.6 411.7h-4.5M1000.4 411.7h8.4M748.6 422h4.5M1260.6 422h-4.5M1000.4 422h8.4"/>
<path stroke="#994b00" stroke-width="1" d="M749.5 157.9V163.6M750.5 157.7V166.5M751.5 157.5V163.8M752.5 155.8V162.3M753.5 155.5V161.9M754.5 156.4V163.6M755.5 158.1V164M756.5 158.9V164.2M757.5 157.4V167.8M758.5 158.1V164.4M759.5 157.5V168M760.5 157.6V167.2M761.5 158.2V163.7M762.5 157.2V162.5M763.5 157.2V163.4M764.5 158.4V167.4M765.5 159.8V164.8M766.5 158.2V165.6M767.5 158.8V163.7M768.5 156V165.4M769.5 156.6V164.7M770.5 154.3V164.1M771.5 157.7V168.5M772.5 154.6V165.9M773.5 160.9V167.2M774.5 158V169.1M775.5 163.3V169M776.5 163.8V171.9M777.5 165V172.3M778.5 166.4V173.4M779.5 168.9V177.7M780.5 165.5V174.3M781.5 168.5V175M782.5 169.1V175.4M783.5 170.3V178.8M784.5 172.1V180.1M785.5 173.8V180M786.5 174.2V180.3M787.5 174.2V179.8M788.5 171.6V181.9M789.5 176.7V182M790.5 177.1V183.2M791.5 175.7V182.9M792.5 178.3V184.9M793.5 178.7V184.6M794.5 173.5V184.2M795.5 171.4V178.9M796.5 166.6V177.8M797.5 165.9V172.4M798.5 161.4V171M799.5 157.9V167.2M800.5 156.3V162.9M801.5 153.6V162M802.5 150.7V158.5M803.5 148.1V156.8M804.5 145V153.2M805.5 146.1V159.2M806.5 149.9V163.2M807.5 158V164.7M808.5 157.7V169.3M809.5 157.7V164.5M810.5 158.7V164.9M811.5 158.7V166.1M812.5 158.1V165.8M813.5 158.1V167.4M814.5 158.2V163.6M815.5 159.1V164.7M816.5 158V164.8M817.5 155.2V164.9M818.5 159V164.7M819.5 156V166.5M820.5 154.4V166M821.5 158.6V164.4M822.5 152.7V165.3M823.5 156.8V164.7M824.5 158.7V165.6M825.5 159V165.1M826.5 159V165.4M827.5 157.6V164.9M828.5 152.8V166.7M829.5 156.8V163.8M830.5 157.2V163.1M831.5 157.4V163.5M832.5 158.3V163.5M833.5 157.5V165M834.5 159.1V164.4M835.5 158.2V165M836.5 159.6V165.6M837.5 159.8V165.2M838.5 159.3V171.5M839.5 157.1V168M840.5 161.4V167.5M841.5 159.7V165.8M842.5 159.3V166.3M843.5 160.2V165.2M844.5 155V167.4M845.5 162.3V168M846.5 160.1V169.4M847.5 164.1V170.8M848.5 164.2V171.2M849.5 165.2V171.9M850.5 167V172.2M851.5 166.7V171.7M852.5 166.1V173.9M853.5 167.3V174.6M854.5 165.9V175.1M855.5 169.3V176.3M856.5 170.7V177.5M857.5 169V179.5M858.5 173.8V179.6M859.5 173.2V181.6M860.5 173.6V181.6M861.5 175.6V182M862.5 175.9V181.7M863.5 172.5V182.1M864.5 176.4V183.9M865.5 175V185.1M866.5 178.1V184.1M867.5 175.3V186.9M868.5 173.3V183.3M869.5 169.6V179.3M870.5 161.3V176.1M871.5 164.3V172.3M872.5 161.9V169.7M873.5 156.8V166.7M874.5 156.4V166.8M875.5 152.9V161.1M876.5 151.2V158.8M877.5 148.2V162.2M878.5 145.4V154M879.5 145V156.3M880.5 150.8V167.7M881.5 158V170.8M882.5 161.5V167.6M883.5 162.1V170M884.5 161.8V167.8M885.5 158.4V173.6M886.5 156.9V167.7M887.5 155.7V167.8M888.5 160V166.1M889.5 156.2V165.6M890.5 160.4V166.8M891.5 159.2V166.1M892.5 160.3V165.9M893.5 157.2V167.2M894.5 161.9V167.7M895.5 161.8V171M896.5 161.1V167.1M897.5 161.8V166.5M898.5 156.5V166.8M899.5 160.6V165.8M900.5 159.3V166.4M901.5 155.3V166.4M902.5 160.8V169.3M903.5 159.8V170.6M904.5 157V166.8M905.5 160.5V166.8M906.5 160V169.7M907.5 157.8V166.2M908.5 160.2V166.9M909.5 161.3V166M910.5 159.9V165.9M911.5 159.4V166M912.5 160.9V167.7M913.5 160.8V167.5M914.5 160.6V165.8M915.5 156.9V166.2M916.5 160.3V166.9M917.5 161.2V167.6M918.5 160.6V166.9M919.5 160.5V168.1M920.5 158.2V168.7M921.5 163.2V168.4M922.5 158.7V173.7M923.5 164.7V171.3M924.5 164.6V173.9M925.5 166.5V172.1M926.5 165.9V171.3M927.5 167.1V174M928.5 164.2V174.2M929.5 168.2V173.6M930.5 167.6V174.6M931.5 169.2V177.9M932.5 171.8V178.4M933.5 170.9V178.1M934.5 171.6V178.5M935.5 172.7V180.1M936.5 173.4V180.4M937.5 174.9V182.1M938.5 177.4V186.6M939.5 177.4V188.3M940.5 177.5V184.3M941.5 178.5V184.5M942.5 179.9V186.9M943.5 178.4V187.6M944.5 174.2V184.1M945.5 170.7V180.2M946.5 167V176.3M947.5 163.5V172.7M948.5 160.3V169.7M949.5 156.5V165.8M950.5 155.6V163.5M951.5 150.3V160.7M952.5 150.3V161.4M953.5 149.2V158.4M954.5 147.9V158M955.5 147.3V160.7M956.5 154.8V169.6M957.5 161.4V166.6M958.5 161.8V167.4M959.5 162.3V168.4M960.5 161V168M961.5 162.1V167.5M962.5 161.1V171.1M963.5 162.8V168.6M964.5 161.7V167.5M965.5 160.6V168.5M966.5 161.3V168.9M967.5 162.9V169.1M968.5 163.6V169.1M969.5 163.4V168.4M970.5 160.8V168M971.5 161.7V168M972.5 161.5V168.4M973.5 160.6V166.4M974.5 158V167.9M975.5 162.9V167.6M976.5 161.9V172M977.5 162.4V169.1M978.5 162.2V169.5M979.5 161.3V168.3M980.5 160.8V168.3M981.5 161.1V167.7M982.5 159V171.8M983.5 161.4V168M984.5 161.4V168.1M985.5 161.4V171.4M986.5 161.7V168.4M987.5 160.9V168.7M988.5 162.4V167.8M989.5 157.8V167.4M990.5 157.6V171.8M991.5 159.1V167.4M992.5 159.9V173.8M993.5 162.7V169.7M994.5 164.7V171.8M995.5 161.5V171.5M996.5 165.5V171.6M997.5 166.5V173.9M998.5 168.2V174.8M999.5 167.4V174M1000.5 168.7V174.3M1001.5 168.1V175.8M1002.5 169.6V176.3M1003.5 164.3V176.5M1004.5 168.7V177M1005.5 167.7V175.5M1006.5 166.1V176.7M1007.5 171.8V178M1008.5 172.4V183.3M1009.5 174.7V183.4M1010.5 174.9V182.2M1011.5 175.9V183.4M1012.5 176.4V184M1013.5 178.7V183.7M1014.5 178.1V185.3M1015.5 179.5V184.2M1016.5 179.4V187.8M1017.5 177.6V185.9M1018.5 172.2V182.4M1019.5 170.9V178.5M1020.5 168.5V176.4M1021.5 165.3V174.9M1022.5 161.5V171.2M1023.5 158.6V170.9M1024.5 154.4V164.9M1025.5 151.4V161.7M1026.5 151.8V158.9M1027.5 149.6V156.7M1028.5 149.1V156.8M1029.5 151.3V163.2M1030.5 157.9V167.7M1031.5 162.7V169.7M1032.5 164V172.2M1033.5 163.4V169M1034.5 163.2V169.5M1035.5 163.2V170M1036.5 162.4V167.7M1037.5 162.2V169M1038.5 159.4V168M1039.5 162.3V168.3M1040.5 157.9V169.6M1041.5 161.7V168.3M1042.5 163V168.3M1043.5 160.9V171.4M1044.5 162.1V171M1045.5 160.2V171.3M1046.5 160.7V166.5M1047.5 161.5V166.3M1048.5 160.9V168.8M1049.5 163.4V172.3M1050.5 164.2V168.4M1051.5 163.4V169.5M1052.5 161.5V168.6M1053.5 158.2V166.6M1054.5 160.4V167.3M1055.5 161.7V168.2M1056.5 162.3V171.3M1057.5 161.2V167.6M1058.5 161.2V166.9M1059.5 160.3V167.5M1060.5 161.6V167M1061.5 161.4V166.6M1062.5 157.3V166.4M1063.5 160.1V168.1M1064.5 162.5V167.8M1065.5 162.6V171.4M1066.5 158.9V168.6M1067.5 162.8V169.2M1068.5 161.6V173.4M1069.5 165V172.9M1070.5 160.7V172.2M1071.5 164.9V170.9M1072.5 165.5V173.4M1073.5 166.2V172.3M1074.5 166.8V174.4M1075.5 164.5V173.7M1076.5 167V173.5M1077.5 163.1V174.2M1078.5 168.1V177.3M1079.5 169.4V176.9M1080.5 171.1V175.8M1081.5 170.3V177.4M1082.5 172.5V180.1M1083.5 169.4V179.8M1084.5 173.8V180.3M1085.5 175.8V181.1M1086.5 175.2V186.2M1087.5 176.3V184.1M1088.5 171.6V184.1M1089.5 177.7V184.4M1090.5 178V186.8M1091.5 178.5V186.9M1092.5 180.2V185.6M1093.5 176.1V186.5M1094.5 173.2V181.9M1095.5 169.1V179.9M1096.5 167.3V176.4M1097.5 163.6V173.4M1098.5 160.8V169.2M1099.5 154.5V166.4M1100.5 153.8V163.4M1101.5 147.3V159.3M1102.5 149.2V157.1M1103.5 147.3V154.7M1104.5 147.5V156.6M1105.5 151.5V162.9M1106.5 157.2V167.5M1107.5 161.9V167.5M1108.5 158.6V167.6M1109.5 162.5V167.9M1110.5 157.8V167M1111.5 160.9V172M1112.5 163.1V169.8M1113.5 162.9V169M1114.5 162.4V168M1115.5 163.1V168.2M1116.5 163.6V168.6M1117.5 163.4V172.2M1118.5 162.7V173.6M1119.5 163.9V169M1120.5 159V168.6M1121.5 163V168.3M1122.5 162.2V168.9M1123.5 162.8V169.6M1124.5 159.3V169.3M1125.5 163.2V169.7M1126.5 163.6V169.1M1127.5 163.3V169.8M1128.5 162.9V169.7M1129.5 161.5V172.5M1130.5 160.7V167.4M1131.5 161.1V168.3M1132.5 161.4V168.9M1133.5 162V167.4M1134.5 160.9V167.4M1135.5 161V167.4M1136.5 161.6V166.9M1137.5 162V168.2M1138.5 158V167.5M1139.5 161.4V167.5M1140.5 161.2V166.4M1141.5 161.4V167.3M1142.5 161.6V170.1M1143.5 160.5V167.4M1144.5 161.9V168M1145.5 163V168.4M1146.5 163.8V174.3M1147.5 164.9V172.3M1148.5 164.2V171.3M1149.5 161.9V172.8M1150.5 167.2V173.2M1151.5 166.9V173.3M1152.5 167.3V173.2M1153.5 168.1V174.1M1154.5 168.8V175.1M1155.5 169.7V175.7M1156.5 169.2V175.8M1157.5 171V177.4M1158.5 171.1V178.4M1159.5 172.9V181.3M1160.5 174.5V181.7M1161.5 175.3V182.2M1162.5 175.6V183M1163.5 175.9V182.3M1164.5 178.1V186.7M1165.5 177.9V186M1166.5 176.6V189.8M1167.5 180.5V186.6M1168.5 175.7V187.6M1169.5 172.5V184.8M1170.5 164.8V181.6M1171.5 166.8V175.2M1172.5 164V172.1M1173.5 162.6V169.8M1174.5 160.5V168.7M1175.5 156.2V165.1M1176.5 153.9V162.4M1177.5 146.4V160.3M1178.5 146.3V155.4M1179.5 146.3V155.7M1180.5 149.2V165.3M1181.5 153.4V168.4M1182.5 157.8V167.1M1183.5 162.6V167.8M1184.5 162.1V167.5M1185.5 162.5V168.6M1186.5 162.7V168.1M1187.5 161.6V167.6M1188.5 161.7V171.5M1189.5 161.6V168.1M1190.5 160.9V167M1191.5 157.1V167.5M1192.5 161V168.4M1193.5 161.5V166.5M1194.5 160.4V166.2M1195.5 159.8V166.6M1196.5 160.9V167.6M1197.5 156.3V172M1198.5 159.6V170.3M1199.5 160.7V168.1M1200.5 160.8V170.8M1201.5 157.6V167.5M1202.5 162.6V167.8M1203.5 162.9V167.8M1204.5 162.7V167.6M1205.5 161.3V168.1M1206.5 161.9V172.1M1207.5 162.1V167.8M1208.5 161.4V167.9M1209.5 163.4V169.5M1210.5 162V168.6M1211.5 161.7V168.2M1212.5 163.2V169.2M1213.5 161.9V172.4M1214.5 161.5V167.3M1215.5 156.9V167.7M1216.5 162.1V166.8M1217.5 160.8V171.5M1218.5 161.1V168M1219.5 162.2V171.4M1220.5 159.3V169.4M1221.5 164.2V169.7M1222.5 164.4V171M1223.5 164.6V170.9M1224.5 165.6V173.4M1225.5 166.8V177M1226.5 165.6V173.4M1227.5 168.4V174.5M1228.5 167.5V174.2M1229.5 167.9V176.3M1230.5 167.4V175.2M1231.5 169.6V177.6M1232.5 172.3V178.9M1233.5 173.5V178.7M1234.5 172.5V181M1235.5 174.7V181.4M1236.5 173.4V181.7M1237.5 176.1V181.1M1238.5 175.3V181.8M1239.5 177.8V182.9M1240.5 177V185.4M1241.5 176.4V185.9M1242.5 176.6V188M1243.5 178.7V187.5M1244.5 172V185.9M1245.5 170.5V178.3M1246.5 163.6V175M1247.5 164V171.2M1248.5 161.4V168.8M1249.5 159.1V168.2M1250.5 153.8V164.7M1251.5 154.1V163.1M1252.5 148.1V161.2M1253.5 150.6V158.2M1254.5 149.4V155.7M1255.5 149.1V162.5M1256.5 156.7V167.8M1257.5 162.5V167.8M1258.5 162.2V169.7M1259.5 164V169.2M1260.5 162.1V169.7"/>
<path stroke="#555" stroke-width="1.2" d="M71 20.2h2M77 20.2h2M118 20.2h2M149.6 20.2h2M242.8 20.2h2M782.6 20.6h2M788.6 20.6h2M829.6 20.6h2M861.2 20.6h2M954.4 20.6h2"/>
<path stroke="#111" stroke-width="2" d="M549.3 20.8h3.2M1261.1 21.1h5.4"/>
<path stroke="#404040" stroke-width="1.7" d="M550.1 35.5V471M1261.6 35.5V471.5"/>
<path stroke="#6a9ad8" stroke-width="1.7" d="M550.1 30V35.5M1261.6 30.8V35.5"/>
<text x="45.2" y="143" font-size="11" fill="#a25a1e" textLength="26.5" lengthAdjust="spacingAndGlyphs">YOUT</text>
<text x="756.6" y="142.8" font-size="11" fill="#a25a1e" textLength="26.4" lengthAdjust="spacingAndGlyphs">YOUT</text>
<text x="51" y="386.9" font-size="12.2" fill="#2d68cc" textLength="16.5" lengthAdjust="spacingAndGlyphs">SW</text>
<path stroke="#a25a1e" stroke-width="1.2" d="M12.8 189.5V203"/>
<text x="21.4" y="201.2" font-size="12" fill="#a25a1e" textLength="5.6" lengthAdjust="spacingAndGlyphs">1</text>
<path stroke="#a25a1e" stroke-width="1" fill="#a25a1e" d="M29 196.5H34M33 194.2L37 196.5L33 198.8Z"/>
<rect x="15.2" y="404.1" width="21.7" height="14.2" fill="#034ab2"/>
<text x="21.3" y="417" font-size="12.4" fill="#fff" textLength="6.1" lengthAdjust="spacingAndGlyphs">2</text>
<path stroke="#fff" stroke-width="1.1" fill="#fff" d="M29.7 411.6H33M32.3 409.3L36.5 411.6L32.3 413.9Z"/>
<rect x="726.8" y="189" width="21.7" height="14.4" fill="#994b00"/>
<text x="732.7" y="201.8" font-size="12" fill="#fff" textLength="5.6" lengthAdjust="spacingAndGlyphs">1</text>
<path stroke="#fff" stroke-width="1.1" fill="#fff" d="M740 196.6H743.5M742.8 194.3L747 196.6L742.8 198.9Z"/>
<path fill="#f26522" d="M83.4 22.2h10l-5 6z"/>
<path fill="#f26522" d="M795 22.6h10l-5 6z"/>
<path fill="#ffe000" d="M86.6 23h3.6l-1.8 3.2z"/>
<path stroke="#994b00" stroke-width="1.2" fill="#994b00" d="M1255 155.6H1260.5M1252.5 155.6l3 -2v4z"/>
<path stroke="#0649b4" stroke-width="1.2" fill="#0649b4" d="M541 371.8H549M538.5 371.8l3.5 -2.2v4.4z"/>
<text x="36.8" y="446.3" font-size="11.3" fill="#a25a1e" textLength="18.7" lengthAdjust="spacingAndGlyphs">Ch1</text>
<text x="77.7" y="446.3" font-size="11.3" fill="#a25a1e" textLength="37.6" lengthAdjust="spacingAndGlyphs">20.0mV</text>
<path fill="none" stroke="#a25a1e" stroke-width="1.3" stroke-linecap="round" d="M123.9 441.2 C123.9 437.8 126.4 438.2 126.4 442 C126.4 445.8 128.9 446.2 128.9 443"/>
<text x="190.3" y="446.3" font-size="11.3" fill="#2d68cc" textLength="18.7" lengthAdjust="spacingAndGlyphs">Ch2</text>
<text x="232.4" y="446.3" font-size="11.3" fill="#2d68cc" textLength="26.8" lengthAdjust="spacingAndGlyphs">10.0V</text>
<text x="290.9" y="444.2" font-size="9.2" fill="#2d68cc">B</text><text x="295.9" y="446.2" font-size="8.6" fill="#2d68cc" textLength="8.6" lengthAdjust="spacingAndGlyphs">W</text>
<text x="343.9" y="446.5" font-size="11.3" fill="#1e1e1e" textLength="79.4" lengthAdjust="spacingAndGlyphs">M 1.0µs 2.5GS/s</text>
<text x="455.9" y="446.5" font-size="11.3" fill="#1e1e1e" textLength="42.1" lengthAdjust="spacingAndGlyphs">400ps/pt</text>
<text x="343.9" y="458.8" font-size="11.3" fill="#1e1e1e" textLength="8" lengthAdjust="spacingAndGlyphs">A</text>
<text x="356.3" y="458.8" font-size="11.3" fill="#2d68cc" textLength="18.9" lengthAdjust="spacingAndGlyphs">Ch2</text>
<path stroke="#1e1e1e" stroke-width="1.2" fill="none" d="M383.8 458.5h1.2l3.4-5.6h1.2"/>
<text x="396.4" y="458.8" font-size="11.3" fill="#1e1e1e" textLength="21.5" lengthAdjust="spacingAndGlyphs">7.8V</text>
<text x="748.1" y="446.3" font-size="11.3" fill="#a25a1e" textLength="18.9" lengthAdjust="spacingAndGlyphs">Ch1</text>
<text x="790.7" y="446.3" font-size="11.3" fill="#a25a1e" textLength="36.2" lengthAdjust="spacingAndGlyphs">10.0mV</text>
<path fill="none" stroke="#a25a1e" stroke-width="1.3" stroke-linecap="round" d="M835.4 441.2 C835.4 437.8 837.9 438.2 837.9 442 C837.9 445.8 840.4 446.2 840.4 443"/>
<text x="849" y="444.2" font-size="9.2" fill="#a25a1e">B</text><text x="854" y="446.2" font-size="8.6" fill="#a25a1e" textLength="8.6" lengthAdjust="spacingAndGlyphs">W</text>
<text x="1054.9" y="446.5" font-size="11.3" fill="#1e1e1e" textLength="79.6" lengthAdjust="spacingAndGlyphs">M 1.0µs 5.0GS/s</text>
<text x="1166.6" y="446.5" font-size="11.3" fill="#1e1e1e" textLength="42.3" lengthAdjust="spacingAndGlyphs">200ps/pt</text>
<text x="1054.9" y="458.6" font-size="11.3" fill="#1e1e1e" textLength="8" lengthAdjust="spacingAndGlyphs">A</text>
<text x="1066.9" y="458.6" font-size="11.3" fill="#a25a1e" textLength="19.6" lengthAdjust="spacingAndGlyphs">Ch1</text>
<path stroke="#1e1e1e" stroke-width="1.2" fill="none" d="M1094.8 458.3h1.2l3.4-5.6h1.2"/>
<text x="1107" y="458.6" font-size="11.3" fill="#1e1e1e" textLength="31.6" lengthAdjust="spacingAndGlyphs">8.0mV</text>
<rect x="52.5" y="230.6" width="373.6" height="57.7" fill="#fff" stroke="#000" stroke-width="1.4"/>
<text x="69" y="272.1" font-size="36" font-weight="bold" fill="#000">Noisy Measurement</text>
<rect x="821" y="232.3" width="365.8" height="57.6" fill="#fff" stroke="#e02630" stroke-width="1.5"/>
<text x="837.5" y="274.3" font-size="36" font-weight="bold" fill="#000">Clear Measurement</text>
<ellipse cx="863.9" cy="441.5" rx="17.5" ry="20.1" fill="none" stroke="#dc0a0a" stroke-width="4"/>
<text x="20" y="505.7" font-size="28" fill="#000">•</text>
<text x="64.6" y="506.5" font-size="27.9" fill="#000">Switching noise picked up from channel 2</text>
<text x="20" y="539.6" font-size="28" fill="#000">•</text>
<text x="64.6" y="540.4" font-size="27.9" fill="#000">No bandwidth limiting</text>
<text x="749.5" y="506.7" font-size="28" fill="#000">•</text>
<text x="794" y="507.7" font-size="28" fill="#000">20 MHz bandwidth limiting</text>
<text x="749.5" y="540.2" font-size="28" fill="#000">•</text>
<text x="794" y="541.2" font-size="28" fill="#000">Switch node probe removed</text>
<rect x="1093" y="529" width="200" height="30" fill="#f2f2f2" fill-opacity="0.35"/>
<text x="1108.2" y="549.5" font-size="19.5" fill="#b8dcb0" textLength="165" lengthAdjust="spacingAndGlyphs">www.cntronics.com</text>
</svg>
</body></html>
